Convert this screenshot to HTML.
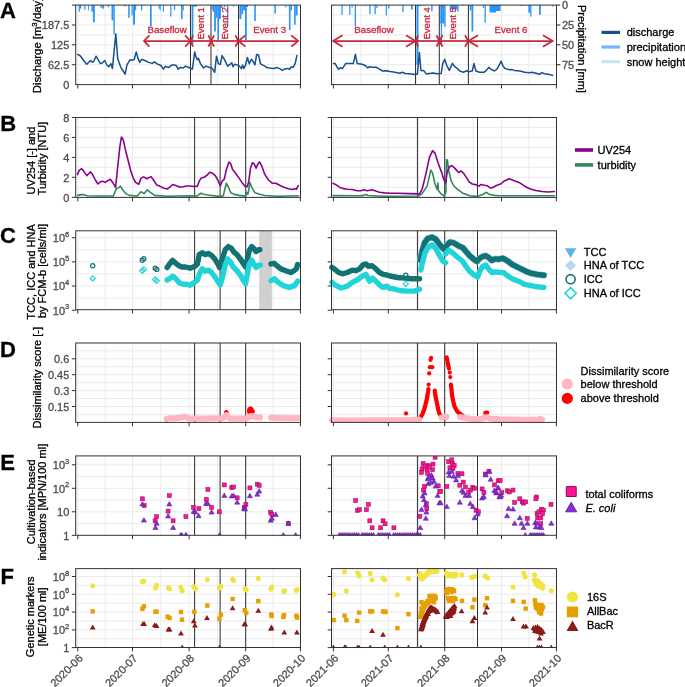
<!DOCTYPE html>
<html><head><meta charset="utf-8"><style>
html,body{margin:0;padding:0;background:#fff;}
body{width:685px;height:687px;overflow:hidden;font-family:"Liberation Sans",sans-serif;}
svg{display:block;will-change:transform;}
</style></head><body>
<svg width="685" height="687" viewBox="0 0 685 687" font-family="Liberation Sans, sans-serif">
<rect width="685" height="687" fill="#ffffff"/>
<defs>
<clipPath id="clipDL"><rect x="75.7" y="343" width="480.8" height="79.4"/></clipPath>
<clipPath id="clipEL"><rect x="75.7" y="455.9" width="480.8" height="79.4"/></clipPath>
<clipPath id="clipFL"><rect x="75.7" y="568.6" width="480.8" height="78.9"/></clipPath>
</defs>
<line x1="75.7" x2="300.5" y1="15.05" y2="15.05" stroke="#ebebeb" stroke-width="1.0"/>
<line x1="75.7" x2="300.5" y1="34.9" y2="34.9" stroke="#ebebeb" stroke-width="1.0"/>
<line x1="75.7" x2="300.5" y1="54.75" y2="54.75" stroke="#ebebeb" stroke-width="1.0"/>
<line x1="75.7" x2="300.5" y1="74.65" y2="74.65" stroke="#ebebeb" stroke-width="1.0"/>
<line x1="75.7" x2="300.5" y1="25" y2="25" stroke="#ebebeb" stroke-width="1.0"/>
<line x1="75.7" x2="300.5" y1="44.8" y2="44.8" stroke="#ebebeb" stroke-width="1.0"/>
<line x1="75.7" x2="300.5" y1="64.7" y2="64.7" stroke="#ebebeb" stroke-width="1.0"/>
<line x1="105.15" x2="105.15" y1="5.1" y2="84.6" stroke="#ebebeb" stroke-width="1.0"/>
<line x1="160.8" x2="160.8" y1="5.1" y2="84.6" stroke="#ebebeb" stroke-width="1.0"/>
<line x1="217.4" x2="217.4" y1="5.1" y2="84.6" stroke="#ebebeb" stroke-width="1.0"/>
<line x1="273.05" x2="273.05" y1="5.1" y2="84.6" stroke="#ebebeb" stroke-width="1.0"/>
<line x1="77.8" x2="77.8" y1="5.1" y2="84.6" stroke="#ebebeb" stroke-width="1.0"/>
<line x1="132.5" x2="132.5" y1="5.1" y2="84.6" stroke="#ebebeb" stroke-width="1.0"/>
<line x1="189.1" x2="189.1" y1="5.1" y2="84.6" stroke="#ebebeb" stroke-width="1.0"/>
<line x1="245.7" x2="245.7" y1="5.1" y2="84.6" stroke="#ebebeb" stroke-width="1.0"/>
<line x1="300.4" x2="300.4" y1="5.1" y2="84.6" stroke="#ebebeb" stroke-width="1.0"/>
<line x1="331.5" x2="556.5" y1="15.05" y2="15.05" stroke="#ebebeb" stroke-width="1.0"/>
<line x1="331.5" x2="556.5" y1="34.9" y2="34.9" stroke="#ebebeb" stroke-width="1.0"/>
<line x1="331.5" x2="556.5" y1="54.75" y2="54.75" stroke="#ebebeb" stroke-width="1.0"/>
<line x1="331.5" x2="556.5" y1="74.65" y2="74.65" stroke="#ebebeb" stroke-width="1.0"/>
<line x1="331.5" x2="556.5" y1="25" y2="25" stroke="#ebebeb" stroke-width="1.0"/>
<line x1="331.5" x2="556.5" y1="44.8" y2="44.8" stroke="#ebebeb" stroke-width="1.0"/>
<line x1="331.5" x2="556.5" y1="64.7" y2="64.7" stroke="#ebebeb" stroke-width="1.0"/>
<line x1="360.85" x2="360.85" y1="5.1" y2="84.6" stroke="#ebebeb" stroke-width="1.0"/>
<line x1="416.5" x2="416.5" y1="5.1" y2="84.6" stroke="#ebebeb" stroke-width="1.0"/>
<line x1="473.1" x2="473.1" y1="5.1" y2="84.6" stroke="#ebebeb" stroke-width="1.0"/>
<line x1="528.95" x2="528.95" y1="5.1" y2="84.6" stroke="#ebebeb" stroke-width="1.0"/>
<line x1="333.4" x2="333.4" y1="5.1" y2="84.6" stroke="#ebebeb" stroke-width="1.0"/>
<line x1="388.3" x2="388.3" y1="5.1" y2="84.6" stroke="#ebebeb" stroke-width="1.0"/>
<line x1="444.7" x2="444.7" y1="5.1" y2="84.6" stroke="#ebebeb" stroke-width="1.0"/>
<line x1="501.5" x2="501.5" y1="5.1" y2="84.6" stroke="#ebebeb" stroke-width="1.0"/>
<line x1="556.4" x2="556.4" y1="5.1" y2="84.6" stroke="#ebebeb" stroke-width="1.0"/>
<line x1="75.7" x2="300.5" y1="127.45" y2="127.45" stroke="#ebebeb" stroke-width="1.0"/>
<line x1="75.7" x2="300.5" y1="147.4" y2="147.4" stroke="#ebebeb" stroke-width="1.0"/>
<line x1="75.7" x2="300.5" y1="167.35" y2="167.35" stroke="#ebebeb" stroke-width="1.0"/>
<line x1="75.7" x2="300.5" y1="187.25" y2="187.25" stroke="#ebebeb" stroke-width="1.0"/>
<line x1="75.7" x2="300.5" y1="137.4" y2="137.4" stroke="#ebebeb" stroke-width="1.0"/>
<line x1="75.7" x2="300.5" y1="157.4" y2="157.4" stroke="#ebebeb" stroke-width="1.0"/>
<line x1="75.7" x2="300.5" y1="177.3" y2="177.3" stroke="#ebebeb" stroke-width="1.0"/>
<line x1="75.7" x2="300.5" y1="197.3" y2="197.3" stroke="#ebebeb" stroke-width="1.0"/>
<line x1="105.15" x2="105.15" y1="117.5" y2="197.4" stroke="#ebebeb" stroke-width="1.0"/>
<line x1="160.8" x2="160.8" y1="117.5" y2="197.4" stroke="#ebebeb" stroke-width="1.0"/>
<line x1="217.4" x2="217.4" y1="117.5" y2="197.4" stroke="#ebebeb" stroke-width="1.0"/>
<line x1="273.05" x2="273.05" y1="117.5" y2="197.4" stroke="#ebebeb" stroke-width="1.0"/>
<line x1="77.8" x2="77.8" y1="117.5" y2="197.4" stroke="#ebebeb" stroke-width="1.0"/>
<line x1="132.5" x2="132.5" y1="117.5" y2="197.4" stroke="#ebebeb" stroke-width="1.0"/>
<line x1="189.1" x2="189.1" y1="117.5" y2="197.4" stroke="#ebebeb" stroke-width="1.0"/>
<line x1="245.7" x2="245.7" y1="117.5" y2="197.4" stroke="#ebebeb" stroke-width="1.0"/>
<line x1="300.4" x2="300.4" y1="117.5" y2="197.4" stroke="#ebebeb" stroke-width="1.0"/>
<line x1="331.5" x2="556.5" y1="127.45" y2="127.45" stroke="#ebebeb" stroke-width="1.0"/>
<line x1="331.5" x2="556.5" y1="147.4" y2="147.4" stroke="#ebebeb" stroke-width="1.0"/>
<line x1="331.5" x2="556.5" y1="167.35" y2="167.35" stroke="#ebebeb" stroke-width="1.0"/>
<line x1="331.5" x2="556.5" y1="187.25" y2="187.25" stroke="#ebebeb" stroke-width="1.0"/>
<line x1="331.5" x2="556.5" y1="137.4" y2="137.4" stroke="#ebebeb" stroke-width="1.0"/>
<line x1="331.5" x2="556.5" y1="157.4" y2="157.4" stroke="#ebebeb" stroke-width="1.0"/>
<line x1="331.5" x2="556.5" y1="177.3" y2="177.3" stroke="#ebebeb" stroke-width="1.0"/>
<line x1="331.5" x2="556.5" y1="197.3" y2="197.3" stroke="#ebebeb" stroke-width="1.0"/>
<line x1="360.85" x2="360.85" y1="117.5" y2="197.4" stroke="#ebebeb" stroke-width="1.0"/>
<line x1="416.5" x2="416.5" y1="117.5" y2="197.4" stroke="#ebebeb" stroke-width="1.0"/>
<line x1="473.1" x2="473.1" y1="117.5" y2="197.4" stroke="#ebebeb" stroke-width="1.0"/>
<line x1="528.95" x2="528.95" y1="117.5" y2="197.4" stroke="#ebebeb" stroke-width="1.0"/>
<line x1="333.4" x2="333.4" y1="117.5" y2="197.4" stroke="#ebebeb" stroke-width="1.0"/>
<line x1="388.3" x2="388.3" y1="117.5" y2="197.4" stroke="#ebebeb" stroke-width="1.0"/>
<line x1="444.7" x2="444.7" y1="117.5" y2="197.4" stroke="#ebebeb" stroke-width="1.0"/>
<line x1="501.5" x2="501.5" y1="117.5" y2="197.4" stroke="#ebebeb" stroke-width="1.0"/>
<line x1="556.4" x2="556.4" y1="117.5" y2="197.4" stroke="#ebebeb" stroke-width="1.0"/>
<line x1="75.7" x2="300.5" y1="249.8" y2="249.8" stroke="#ebebeb" stroke-width="1.0"/>
<line x1="75.7" x2="300.5" y1="273.9" y2="273.9" stroke="#ebebeb" stroke-width="1.0"/>
<line x1="75.7" x2="300.5" y1="298" y2="298" stroke="#ebebeb" stroke-width="1.0"/>
<line x1="75.7" x2="300.5" y1="237.7" y2="237.7" stroke="#ebebeb" stroke-width="1.0"/>
<line x1="75.7" x2="300.5" y1="261.85" y2="261.85" stroke="#ebebeb" stroke-width="1.0"/>
<line x1="75.7" x2="300.5" y1="286" y2="286" stroke="#ebebeb" stroke-width="1.0"/>
<line x1="105.15" x2="105.15" y1="230.8" y2="309.7" stroke="#ebebeb" stroke-width="1.0"/>
<line x1="160.8" x2="160.8" y1="230.8" y2="309.7" stroke="#ebebeb" stroke-width="1.0"/>
<line x1="217.4" x2="217.4" y1="230.8" y2="309.7" stroke="#ebebeb" stroke-width="1.0"/>
<line x1="273.05" x2="273.05" y1="230.8" y2="309.7" stroke="#ebebeb" stroke-width="1.0"/>
<line x1="77.8" x2="77.8" y1="230.8" y2="309.7" stroke="#ebebeb" stroke-width="1.0"/>
<line x1="132.5" x2="132.5" y1="230.8" y2="309.7" stroke="#ebebeb" stroke-width="1.0"/>
<line x1="189.1" x2="189.1" y1="230.8" y2="309.7" stroke="#ebebeb" stroke-width="1.0"/>
<line x1="245.7" x2="245.7" y1="230.8" y2="309.7" stroke="#ebebeb" stroke-width="1.0"/>
<line x1="300.4" x2="300.4" y1="230.8" y2="309.7" stroke="#ebebeb" stroke-width="1.0"/>
<line x1="331.5" x2="556.5" y1="249.8" y2="249.8" stroke="#ebebeb" stroke-width="1.0"/>
<line x1="331.5" x2="556.5" y1="273.9" y2="273.9" stroke="#ebebeb" stroke-width="1.0"/>
<line x1="331.5" x2="556.5" y1="298" y2="298" stroke="#ebebeb" stroke-width="1.0"/>
<line x1="331.5" x2="556.5" y1="237.7" y2="237.7" stroke="#ebebeb" stroke-width="1.0"/>
<line x1="331.5" x2="556.5" y1="261.85" y2="261.85" stroke="#ebebeb" stroke-width="1.0"/>
<line x1="331.5" x2="556.5" y1="286" y2="286" stroke="#ebebeb" stroke-width="1.0"/>
<line x1="360.85" x2="360.85" y1="230.8" y2="309.7" stroke="#ebebeb" stroke-width="1.0"/>
<line x1="416.5" x2="416.5" y1="230.8" y2="309.7" stroke="#ebebeb" stroke-width="1.0"/>
<line x1="473.1" x2="473.1" y1="230.8" y2="309.7" stroke="#ebebeb" stroke-width="1.0"/>
<line x1="528.95" x2="528.95" y1="230.8" y2="309.7" stroke="#ebebeb" stroke-width="1.0"/>
<line x1="333.4" x2="333.4" y1="230.8" y2="309.7" stroke="#ebebeb" stroke-width="1.0"/>
<line x1="388.3" x2="388.3" y1="230.8" y2="309.7" stroke="#ebebeb" stroke-width="1.0"/>
<line x1="444.7" x2="444.7" y1="230.8" y2="309.7" stroke="#ebebeb" stroke-width="1.0"/>
<line x1="501.5" x2="501.5" y1="230.8" y2="309.7" stroke="#ebebeb" stroke-width="1.0"/>
<line x1="556.4" x2="556.4" y1="230.8" y2="309.7" stroke="#ebebeb" stroke-width="1.0"/>
<line x1="75.7" x2="300.5" y1="350.85" y2="350.85" stroke="#ebebeb" stroke-width="1.0"/>
<line x1="75.7" x2="300.5" y1="366.75" y2="366.75" stroke="#ebebeb" stroke-width="1.0"/>
<line x1="75.7" x2="300.5" y1="382.65" y2="382.65" stroke="#ebebeb" stroke-width="1.0"/>
<line x1="75.7" x2="300.5" y1="398.55" y2="398.55" stroke="#ebebeb" stroke-width="1.0"/>
<line x1="75.7" x2="300.5" y1="414.45" y2="414.45" stroke="#ebebeb" stroke-width="1.0"/>
<line x1="75.7" x2="300.5" y1="358.8" y2="358.8" stroke="#ebebeb" stroke-width="1.0"/>
<line x1="75.7" x2="300.5" y1="374.7" y2="374.7" stroke="#ebebeb" stroke-width="1.0"/>
<line x1="75.7" x2="300.5" y1="390.6" y2="390.6" stroke="#ebebeb" stroke-width="1.0"/>
<line x1="75.7" x2="300.5" y1="406.5" y2="406.5" stroke="#ebebeb" stroke-width="1.0"/>
<line x1="105.15" x2="105.15" y1="343" y2="422.4" stroke="#ebebeb" stroke-width="1.0"/>
<line x1="160.8" x2="160.8" y1="343" y2="422.4" stroke="#ebebeb" stroke-width="1.0"/>
<line x1="217.4" x2="217.4" y1="343" y2="422.4" stroke="#ebebeb" stroke-width="1.0"/>
<line x1="273.05" x2="273.05" y1="343" y2="422.4" stroke="#ebebeb" stroke-width="1.0"/>
<line x1="77.8" x2="77.8" y1="343" y2="422.4" stroke="#ebebeb" stroke-width="1.0"/>
<line x1="132.5" x2="132.5" y1="343" y2="422.4" stroke="#ebebeb" stroke-width="1.0"/>
<line x1="189.1" x2="189.1" y1="343" y2="422.4" stroke="#ebebeb" stroke-width="1.0"/>
<line x1="245.7" x2="245.7" y1="343" y2="422.4" stroke="#ebebeb" stroke-width="1.0"/>
<line x1="300.4" x2="300.4" y1="343" y2="422.4" stroke="#ebebeb" stroke-width="1.0"/>
<line x1="331.5" x2="556.5" y1="350.85" y2="350.85" stroke="#ebebeb" stroke-width="1.0"/>
<line x1="331.5" x2="556.5" y1="366.75" y2="366.75" stroke="#ebebeb" stroke-width="1.0"/>
<line x1="331.5" x2="556.5" y1="382.65" y2="382.65" stroke="#ebebeb" stroke-width="1.0"/>
<line x1="331.5" x2="556.5" y1="398.55" y2="398.55" stroke="#ebebeb" stroke-width="1.0"/>
<line x1="331.5" x2="556.5" y1="414.45" y2="414.45" stroke="#ebebeb" stroke-width="1.0"/>
<line x1="331.5" x2="556.5" y1="358.8" y2="358.8" stroke="#ebebeb" stroke-width="1.0"/>
<line x1="331.5" x2="556.5" y1="374.7" y2="374.7" stroke="#ebebeb" stroke-width="1.0"/>
<line x1="331.5" x2="556.5" y1="390.6" y2="390.6" stroke="#ebebeb" stroke-width="1.0"/>
<line x1="331.5" x2="556.5" y1="406.5" y2="406.5" stroke="#ebebeb" stroke-width="1.0"/>
<line x1="360.85" x2="360.85" y1="343" y2="422.4" stroke="#ebebeb" stroke-width="1.0"/>
<line x1="416.5" x2="416.5" y1="343" y2="422.4" stroke="#ebebeb" stroke-width="1.0"/>
<line x1="473.1" x2="473.1" y1="343" y2="422.4" stroke="#ebebeb" stroke-width="1.0"/>
<line x1="528.95" x2="528.95" y1="343" y2="422.4" stroke="#ebebeb" stroke-width="1.0"/>
<line x1="333.4" x2="333.4" y1="343" y2="422.4" stroke="#ebebeb" stroke-width="1.0"/>
<line x1="388.3" x2="388.3" y1="343" y2="422.4" stroke="#ebebeb" stroke-width="1.0"/>
<line x1="444.7" x2="444.7" y1="343" y2="422.4" stroke="#ebebeb" stroke-width="1.0"/>
<line x1="501.5" x2="501.5" y1="343" y2="422.4" stroke="#ebebeb" stroke-width="1.0"/>
<line x1="556.4" x2="556.4" y1="343" y2="422.4" stroke="#ebebeb" stroke-width="1.0"/>
<line x1="75.7" x2="300.5" y1="476.55" y2="476.55" stroke="#ebebeb" stroke-width="1.0"/>
<line x1="75.7" x2="300.5" y1="500.05" y2="500.05" stroke="#ebebeb" stroke-width="1.0"/>
<line x1="75.7" x2="300.5" y1="523.55" y2="523.55" stroke="#ebebeb" stroke-width="1.0"/>
<line x1="75.7" x2="300.5" y1="464.8" y2="464.8" stroke="#ebebeb" stroke-width="1.0"/>
<line x1="75.7" x2="300.5" y1="488.3" y2="488.3" stroke="#ebebeb" stroke-width="1.0"/>
<line x1="75.7" x2="300.5" y1="511.8" y2="511.8" stroke="#ebebeb" stroke-width="1.0"/>
<line x1="105.15" x2="105.15" y1="455.9" y2="535.3" stroke="#ebebeb" stroke-width="1.0"/>
<line x1="160.8" x2="160.8" y1="455.9" y2="535.3" stroke="#ebebeb" stroke-width="1.0"/>
<line x1="217.4" x2="217.4" y1="455.9" y2="535.3" stroke="#ebebeb" stroke-width="1.0"/>
<line x1="273.05" x2="273.05" y1="455.9" y2="535.3" stroke="#ebebeb" stroke-width="1.0"/>
<line x1="77.8" x2="77.8" y1="455.9" y2="535.3" stroke="#ebebeb" stroke-width="1.0"/>
<line x1="132.5" x2="132.5" y1="455.9" y2="535.3" stroke="#ebebeb" stroke-width="1.0"/>
<line x1="189.1" x2="189.1" y1="455.9" y2="535.3" stroke="#ebebeb" stroke-width="1.0"/>
<line x1="245.7" x2="245.7" y1="455.9" y2="535.3" stroke="#ebebeb" stroke-width="1.0"/>
<line x1="300.4" x2="300.4" y1="455.9" y2="535.3" stroke="#ebebeb" stroke-width="1.0"/>
<line x1="331.5" x2="556.5" y1="476.55" y2="476.55" stroke="#ebebeb" stroke-width="1.0"/>
<line x1="331.5" x2="556.5" y1="500.05" y2="500.05" stroke="#ebebeb" stroke-width="1.0"/>
<line x1="331.5" x2="556.5" y1="523.55" y2="523.55" stroke="#ebebeb" stroke-width="1.0"/>
<line x1="331.5" x2="556.5" y1="464.8" y2="464.8" stroke="#ebebeb" stroke-width="1.0"/>
<line x1="331.5" x2="556.5" y1="488.3" y2="488.3" stroke="#ebebeb" stroke-width="1.0"/>
<line x1="331.5" x2="556.5" y1="511.8" y2="511.8" stroke="#ebebeb" stroke-width="1.0"/>
<line x1="360.85" x2="360.85" y1="455.9" y2="535.3" stroke="#ebebeb" stroke-width="1.0"/>
<line x1="416.5" x2="416.5" y1="455.9" y2="535.3" stroke="#ebebeb" stroke-width="1.0"/>
<line x1="473.1" x2="473.1" y1="455.9" y2="535.3" stroke="#ebebeb" stroke-width="1.0"/>
<line x1="528.95" x2="528.95" y1="455.9" y2="535.3" stroke="#ebebeb" stroke-width="1.0"/>
<line x1="333.4" x2="333.4" y1="455.9" y2="535.3" stroke="#ebebeb" stroke-width="1.0"/>
<line x1="388.3" x2="388.3" y1="455.9" y2="535.3" stroke="#ebebeb" stroke-width="1.0"/>
<line x1="444.7" x2="444.7" y1="455.9" y2="535.3" stroke="#ebebeb" stroke-width="1.0"/>
<line x1="501.5" x2="501.5" y1="455.9" y2="535.3" stroke="#ebebeb" stroke-width="1.0"/>
<line x1="556.4" x2="556.4" y1="455.9" y2="535.3" stroke="#ebebeb" stroke-width="1.0"/>
<line x1="75.7" x2="300.5" y1="585.4" y2="585.4" stroke="#ebebeb" stroke-width="1.0"/>
<line x1="75.7" x2="300.5" y1="603.2" y2="603.2" stroke="#ebebeb" stroke-width="1.0"/>
<line x1="75.7" x2="300.5" y1="621" y2="621" stroke="#ebebeb" stroke-width="1.0"/>
<line x1="75.7" x2="300.5" y1="638.8" y2="638.8" stroke="#ebebeb" stroke-width="1.0"/>
<line x1="75.7" x2="300.5" y1="576.5" y2="576.5" stroke="#ebebeb" stroke-width="1.0"/>
<line x1="75.7" x2="300.5" y1="594.3" y2="594.3" stroke="#ebebeb" stroke-width="1.0"/>
<line x1="75.7" x2="300.5" y1="612.1" y2="612.1" stroke="#ebebeb" stroke-width="1.0"/>
<line x1="75.7" x2="300.5" y1="629.9" y2="629.9" stroke="#ebebeb" stroke-width="1.0"/>
<line x1="105.15" x2="105.15" y1="568.6" y2="647.5" stroke="#ebebeb" stroke-width="1.0"/>
<line x1="160.8" x2="160.8" y1="568.6" y2="647.5" stroke="#ebebeb" stroke-width="1.0"/>
<line x1="217.4" x2="217.4" y1="568.6" y2="647.5" stroke="#ebebeb" stroke-width="1.0"/>
<line x1="273.05" x2="273.05" y1="568.6" y2="647.5" stroke="#ebebeb" stroke-width="1.0"/>
<line x1="77.8" x2="77.8" y1="568.6" y2="647.5" stroke="#ebebeb" stroke-width="1.0"/>
<line x1="132.5" x2="132.5" y1="568.6" y2="647.5" stroke="#ebebeb" stroke-width="1.0"/>
<line x1="189.1" x2="189.1" y1="568.6" y2="647.5" stroke="#ebebeb" stroke-width="1.0"/>
<line x1="245.7" x2="245.7" y1="568.6" y2="647.5" stroke="#ebebeb" stroke-width="1.0"/>
<line x1="300.4" x2="300.4" y1="568.6" y2="647.5" stroke="#ebebeb" stroke-width="1.0"/>
<line x1="331.5" x2="556.5" y1="585.4" y2="585.4" stroke="#ebebeb" stroke-width="1.0"/>
<line x1="331.5" x2="556.5" y1="603.2" y2="603.2" stroke="#ebebeb" stroke-width="1.0"/>
<line x1="331.5" x2="556.5" y1="621" y2="621" stroke="#ebebeb" stroke-width="1.0"/>
<line x1="331.5" x2="556.5" y1="638.8" y2="638.8" stroke="#ebebeb" stroke-width="1.0"/>
<line x1="331.5" x2="556.5" y1="576.5" y2="576.5" stroke="#ebebeb" stroke-width="1.0"/>
<line x1="331.5" x2="556.5" y1="594.3" y2="594.3" stroke="#ebebeb" stroke-width="1.0"/>
<line x1="331.5" x2="556.5" y1="612.1" y2="612.1" stroke="#ebebeb" stroke-width="1.0"/>
<line x1="331.5" x2="556.5" y1="629.9" y2="629.9" stroke="#ebebeb" stroke-width="1.0"/>
<line x1="360.85" x2="360.85" y1="568.6" y2="647.5" stroke="#ebebeb" stroke-width="1.0"/>
<line x1="416.5" x2="416.5" y1="568.6" y2="647.5" stroke="#ebebeb" stroke-width="1.0"/>
<line x1="473.1" x2="473.1" y1="568.6" y2="647.5" stroke="#ebebeb" stroke-width="1.0"/>
<line x1="528.95" x2="528.95" y1="568.6" y2="647.5" stroke="#ebebeb" stroke-width="1.0"/>
<line x1="333.4" x2="333.4" y1="568.6" y2="647.5" stroke="#ebebeb" stroke-width="1.0"/>
<line x1="388.3" x2="388.3" y1="568.6" y2="647.5" stroke="#ebebeb" stroke-width="1.0"/>
<line x1="444.7" x2="444.7" y1="568.6" y2="647.5" stroke="#ebebeb" stroke-width="1.0"/>
<line x1="501.5" x2="501.5" y1="568.6" y2="647.5" stroke="#ebebeb" stroke-width="1.0"/>
<line x1="556.4" x2="556.4" y1="568.6" y2="647.5" stroke="#ebebeb" stroke-width="1.0"/>
<line x1="190.5" x2="190.5" y1="5.1" y2="84.6" stroke="#333333" stroke-width="1.05"/>
<line x1="211" x2="211" y1="5.1" y2="84.6" stroke="#333333" stroke-width="1.05"/>
<line x1="238.5" x2="238.5" y1="5.1" y2="84.6" stroke="#333333" stroke-width="1.05"/>
<line x1="415.5" x2="415.5" y1="5.1" y2="84.6" stroke="#333333" stroke-width="1.05"/>
<line x1="439.3" x2="439.3" y1="5.1" y2="84.6" stroke="#333333" stroke-width="1.05"/>
<line x1="468.4" x2="468.4" y1="5.1" y2="84.6" stroke="#333333" stroke-width="1.05"/>
<line x1="194.6" x2="194.6" y1="117.5" y2="197.4" stroke="#333333" stroke-width="1.05"/>
<line x1="220.1" x2="220.1" y1="117.5" y2="197.4" stroke="#333333" stroke-width="1.05"/>
<line x1="245.7" x2="245.7" y1="117.5" y2="197.4" stroke="#333333" stroke-width="1.05"/>
<line x1="417.6" x2="417.6" y1="117.5" y2="197.4" stroke="#333333" stroke-width="1.05"/>
<line x1="444.7" x2="444.7" y1="117.5" y2="197.4" stroke="#333333" stroke-width="1.05"/>
<line x1="477.5" x2="477.5" y1="117.5" y2="197.4" stroke="#333333" stroke-width="1.05"/>
<line x1="194.6" x2="194.6" y1="230.8" y2="309.7" stroke="#333333" stroke-width="1.05"/>
<line x1="220.1" x2="220.1" y1="230.8" y2="309.7" stroke="#333333" stroke-width="1.05"/>
<line x1="245.7" x2="245.7" y1="230.8" y2="309.7" stroke="#333333" stroke-width="1.05"/>
<line x1="417.6" x2="417.6" y1="230.8" y2="309.7" stroke="#333333" stroke-width="1.05"/>
<line x1="444.7" x2="444.7" y1="230.8" y2="309.7" stroke="#333333" stroke-width="1.05"/>
<line x1="477.5" x2="477.5" y1="230.8" y2="309.7" stroke="#333333" stroke-width="1.05"/>
<line x1="194.6" x2="194.6" y1="343" y2="422.4" stroke="#333333" stroke-width="1.05"/>
<line x1="220.1" x2="220.1" y1="343" y2="422.4" stroke="#333333" stroke-width="1.05"/>
<line x1="245.7" x2="245.7" y1="343" y2="422.4" stroke="#333333" stroke-width="1.05"/>
<line x1="417.6" x2="417.6" y1="343" y2="422.4" stroke="#333333" stroke-width="1.05"/>
<line x1="444.7" x2="444.7" y1="343" y2="422.4" stroke="#333333" stroke-width="1.05"/>
<line x1="477.5" x2="477.5" y1="343" y2="422.4" stroke="#333333" stroke-width="1.05"/>
<line x1="194.6" x2="194.6" y1="455.9" y2="535.3" stroke="#333333" stroke-width="1.05"/>
<line x1="220.1" x2="220.1" y1="455.9" y2="535.3" stroke="#333333" stroke-width="1.05"/>
<line x1="245.7" x2="245.7" y1="455.9" y2="535.3" stroke="#333333" stroke-width="1.05"/>
<line x1="417.6" x2="417.6" y1="455.9" y2="535.3" stroke="#333333" stroke-width="1.05"/>
<line x1="444.7" x2="444.7" y1="455.9" y2="535.3" stroke="#333333" stroke-width="1.05"/>
<line x1="477.5" x2="477.5" y1="455.9" y2="535.3" stroke="#333333" stroke-width="1.05"/>
<line x1="194.6" x2="194.6" y1="568.6" y2="647.5" stroke="#333333" stroke-width="1.05"/>
<line x1="220.1" x2="220.1" y1="568.6" y2="647.5" stroke="#333333" stroke-width="1.05"/>
<line x1="245.7" x2="245.7" y1="568.6" y2="647.5" stroke="#333333" stroke-width="1.05"/>
<line x1="417.6" x2="417.6" y1="568.6" y2="647.5" stroke="#333333" stroke-width="1.05"/>
<line x1="444.7" x2="444.7" y1="568.6" y2="647.5" stroke="#333333" stroke-width="1.05"/>
<line x1="477.5" x2="477.5" y1="568.6" y2="647.5" stroke="#333333" stroke-width="1.05"/>
<rect x="78.7" y="5.1" width="1.2" height="6.6" fill="#2894f7"/>
<rect x="79.9" y="5.1" width="1.3" height="3.5" fill="#2894f7"/>
<rect x="84.3" y="5.1" width="1.2" height="4.7" fill="#2894f7"/>
<rect x="88" y="5.1" width="0.9" height="5.3" fill="#2894f7"/>
<rect x="91.4" y="5.1" width="1.5" height="6.6" fill="#2894f7"/>
<rect x="92.9" y="5.1" width="1.9" height="17.1" fill="#2894f7"/>
<rect x="100.4" y="5.1" width="1.2" height="2.9" fill="#2894f7"/>
<rect x="102.2" y="5.1" width="1.9" height="3.5" fill="#2894f7"/>
<rect x="107.8" y="5.1" width="1.2" height="2.2" fill="#2894f7"/>
<rect x="111.5" y="5.1" width="1.9" height="15.2" fill="#2894f7"/>
<rect x="113.4" y="5.1" width="1.4" height="29.4" fill="#2894f7"/>
<rect x="124.5" y="5.1" width="1.2" height="1.6" fill="#2894f7"/>
<rect x="128.2" y="5.1" width="1.5" height="12.7" fill="#2894f7"/>
<rect x="131.5" y="5.1" width="1.2" height="10.3" fill="#2894f7"/>
<rect x="133.1" y="5.1" width="1.9" height="19.5" fill="#2894f7"/>
<rect x="135" y="5.1" width="1.2" height="5.3" fill="#2894f7"/>
<rect x="141.1" y="5.1" width="1.3" height="5.3" fill="#2894f7"/>
<rect x="150" y="5.1" width="1.7" height="21.4" fill="#2894f7"/>
<rect x="158.5" y="5.1" width="1.2" height="3.5" fill="#2894f7"/>
<rect x="159.7" y="5.1" width="1" height="5.3" fill="#2894f7"/>
<rect x="162.8" y="5.1" width="1.2" height="6.6" fill="#2894f7"/>
<rect x="170.2" y="5.1" width="1.2" height="11.5" fill="#2894f7"/>
<rect x="173.9" y="5.1" width="1.3" height="4.7" fill="#2894f7"/>
<rect x="181" y="5.1" width="1.6" height="14" fill="#2894f7"/>
<rect x="182.6" y="5.1" width="1.2" height="5.3" fill="#2894f7"/>
<rect x="191.6" y="5.1" width="1.8" height="38.7" fill="#2894f7"/>
<rect x="193.4" y="5.1" width="3.4" height="1.6" fill="#2894f7"/>
<rect x="211.6" y="5.1" width="1.2" height="4.7" fill="#2894f7"/>
<rect x="212.8" y="5.1" width="1.3" height="6.9" fill="#2894f7"/>
<rect x="214.1" y="5.1" width="1.8" height="26.4" fill="#2894f7"/>
<rect x="215.9" y="5.1" width="1.5" height="12.7" fill="#2894f7"/>
<rect x="217.4" y="5.1" width="1.6" height="34.9" fill="#2894f7"/>
<rect x="219" y="5.1" width="1.9" height="13.9" fill="#2894f7"/>
<rect x="220.9" y="5.1" width="1.6" height="2.9" fill="#2894f7"/>
<rect x="224" y="5.1" width="1.2" height="1.9" fill="#2894f7"/>
<rect x="227.1" y="5.1" width="1.2" height="21.4" fill="#2894f7"/>
<rect x="233" y="5.1" width="1.2" height="1.4" fill="#2894f7"/>
<rect x="239.4" y="5.1" width="1.9" height="13.9" fill="#2894f7"/>
<rect x="241.3" y="5.1" width="1.8" height="9" fill="#2894f7"/>
<rect x="243.1" y="5.1" width="1.9" height="5.3" fill="#2894f7"/>
<rect x="245" y="5.1" width="1.8" height="35" fill="#2894f7"/>
<rect x="246.8" y="5.1" width="1.2" height="1.9" fill="#2894f7"/>
<rect x="254.2" y="5.1" width="1.6" height="15.9" fill="#2894f7"/>
<rect x="274.4" y="5.1" width="1.5" height="8.4" fill="#2894f7"/>
<rect x="285.2" y="5.1" width="1.2" height="2.2" fill="#2894f7"/>
<rect x="288.9" y="5.1" width="1.6" height="25.1" fill="#2894f7"/>
<rect x="290.5" y="5.1" width="1.5" height="5.3" fill="#2894f7"/>
<rect x="294.1" y="5.1" width="1.6" height="19.6" fill="#2894f7"/>
<rect x="295.7" y="5.1" width="1.9" height="10.3" fill="#2894f7"/>
<rect x="341.4" y="5.1" width="1.2" height="9.7" fill="#2894f7"/>
<rect x="349.2" y="5.1" width="1.2" height="9.7" fill="#2894f7"/>
<rect x="351.7" y="5.1" width="0.8" height="2.9" fill="#2894f7"/>
<rect x="354.7" y="5.1" width="1.3" height="21.4" fill="#2894f7"/>
<rect x="365.3" y="5.1" width="0.8" height="0.9" fill="#2894f7"/>
<rect x="369.3" y="5.1" width="1.3" height="9" fill="#2894f7"/>
<rect x="374.5" y="5.1" width="1.3" height="9" fill="#2894f7"/>
<rect x="376.4" y="5.1" width="1.2" height="2.9" fill="#2894f7"/>
<rect x="380.7" y="5.1" width="1" height="0.9" fill="#2894f7"/>
<rect x="385.7" y="5.1" width="1.2" height="10.3" fill="#2894f7"/>
<rect x="388.1" y="5.1" width="1.3" height="3.5" fill="#2894f7"/>
<rect x="402.3" y="5.1" width="1.3" height="7.2" fill="#2894f7"/>
<rect x="411" y="5.1" width="1.7" height="4.4" fill="#2894f7"/>
<rect x="416.5" y="5.1" width="2" height="59.8" fill="#2894f7"/>
<rect x="418.5" y="5.1" width="2.8" height="1" fill="#2894f7"/>
<rect x="431.2" y="5.1" width="1.4" height="6.1" fill="#2894f7"/>
<rect x="440.1" y="5.1" width="0.7" height="18.4" fill="#2894f7"/>
<rect x="440.8" y="5.1" width="1.3" height="40.3" fill="#2894f7"/>
<rect x="442.1" y="5.1" width="2.1" height="18.4" fill="#2894f7"/>
<rect x="444.2" y="5.1" width="1.4" height="21.5" fill="#2894f7"/>
<rect x="449.9" y="5.1" width="7.4" height="4.4" fill="#2894f7"/>
<rect x="451" y="5.1" width="1.5" height="2.9" fill="#2894f7"/>
<rect x="457.3" y="5.1" width="1.3" height="6.6" fill="#2894f7"/>
<rect x="462.3" y="5.1" width="1.2" height="0.9" fill="#2894f7"/>
<rect x="469.7" y="5.1" width="1.8" height="5.3" fill="#2894f7"/>
<rect x="471.5" y="5.1" width="1.7" height="26.4" fill="#2894f7"/>
<rect x="482.7" y="5.1" width="1.2" height="2.9" fill="#2894f7"/>
<rect x="484.5" y="5.1" width="1.3" height="17.7" fill="#2894f7"/>
<rect x="489.5" y="5.1" width="6.5" height="7.4" fill="#2894f7"/>
<rect x="496" y="5.1" width="4.6" height="5.9" fill="#2894f7"/>
<rect x="520.4" y="5.1" width="1.2" height="0.9" fill="#2894f7"/>
<rect x="528.4" y="5.1" width="1.9" height="7.8" fill="#2894f7"/>
<rect x="530.3" y="5.1" width="1.2" height="11.5" fill="#2894f7"/>
<rect x="539" y="5.1" width="1.8" height="9.7" fill="#2894f7"/>
<rect x="552" y="5.1" width="1.2" height="1.6" fill="#2894f7"/>
<path d="M77.7,54.3 L80.6,56.2 L83.7,60.5 L86.8,64.2 L90.5,60.5 L92.3,62.1 L93.6,61.8 L96,56.2 L97.9,59.3 L100.4,63.6 L102.2,63 L104.7,60.5 L107.2,65.5 L108.7,66.7 L110.9,63.6 L112.4,68.6 L115.8,33.9 L117.7,58.7 L120.8,67.3 L123.2,71 L125.1,74.1 L127,64.9 L130.1,59.7 L132.5,60.2 L134.3,59.3 L136.2,51.9 L137.7,57.4 L139.7,62.4 L141.8,59.3 L144.8,60.5 L148.6,62.4 L152.3,63.4 L154.5,61.8 L156.6,63.6 L160.9,65.5 L163.4,69.2 L165.3,66.3 L168.4,67.6 L172.1,64.9 L174.5,64.9 L176.4,65.8 L178,69.2 L180.1,67.6 L183.2,68 L185.4,66.1 L188.1,67.3 L190,68 L192.4,69.2 L194.7,51.9 L196.1,57.4 L197.4,59.7 L198.4,58.4 L200.5,63.6 L203.6,68 L206,66.1 L209.1,67.3 L211.6,68 L213.2,69.8 L214.7,72.3 L216.5,56.2 L218.4,63.6 L220.3,64.5 L222.1,55.6 L224.6,59.9 L227.7,66.1 L230.2,64.2 L231.8,62.8 L233,66.7 L234.7,64.2 L237,64.9 L239.4,66.1 L241.3,68.6 L242.5,64.9 L243.7,68.6 L245.6,64.9 L247.4,57.5 L249.3,63.7 L251.4,59.3 L253,61.2 L254.9,64.9 L256.7,54.4 L258.6,55 L260.4,63.7 L262.3,64.9 L264.8,66.1 L266.6,67.4 L269.7,68 L273.4,68.4 L277.1,67.6 L280.2,68.9 L282.3,70.5 L284.6,68.9 L287.7,68.4 L289.5,69.2 L291.4,66.8 L293.2,67.4 L295.1,63.7 L296.9,55.6" fill="none" stroke="#174f8c" stroke-width="1.5" stroke-linejoin="round" stroke-linecap="round" />
<path d="M333.5,63.4 L335.2,63.6 L336.8,66.7 L338.7,69.2 L340.5,67.6 L342.4,68.6 L345.8,63.4 L348.6,63.6 L353.3,63.6 L355.4,54.3 L357.2,63.6 L362.2,64.2 L365.3,65.5 L367.7,68 L369.6,66.7 L372.1,67.3 L376.4,67.3 L379.5,69.2 L382.6,71 L386.3,70.8 L390,71.5 L394.9,72.3 L399.8,73.3 L402.3,72.3 L405.4,73.5 L409.7,73.8 L414.7,74.5 L417.4,74.1 L419.4,52.5 L420.9,70.4 L422.1,70.8 L423.6,70.4 L426.4,74.1 L429.5,73.5 L433.2,72.9 L437,73.8 L441.2,73.5 L442.7,63.6 L444.7,59.3 L446.8,65.5 L449.3,70.4 L452.4,63.4 L454.8,66.7 L457.3,68.6 L459.8,71 L463.5,72.3 L466.6,70.8 L469.1,71.7 L472.2,71 L474,63.6 L475.9,71 L479.6,72.3 L483.9,72.3 L486.4,70.4 L488.9,67.3 L490.7,69.2 L494.4,71 L496.9,69.2 L499.3,64.9 L501.2,61.2 L503,66.1 L504.9,68.4 L507.4,69.2 L509.9,69.8 L511.7,69.6 L514.8,70.5 L519.8,71.1 L524.7,72.3 L529.7,72.7 L532.1,72.3 L537.1,73.6 L539.6,74.2 L541.8,72.6 L544.5,73.8 L548.2,74.2 L552.6,75.4" fill="none" stroke="#174f8c" stroke-width="1.5" stroke-linejoin="round" stroke-linecap="round" />
<path d="M77.5,195.4 L82.4,194.4 L87.4,195.7 L99.7,196 L113.4,196 L114.6,192.7 L116.4,188.6 L118.3,188 L120.5,186.1 L122.6,189.8 L125.7,193.6 L129.4,195.4 L137.4,196 L140.9,191.7 L144.2,193.6 L147.3,189.8 L150.4,192.3 L154.7,195.4 L167.1,196.2 L190,195.7 L197.4,196 L199.2,194.2 L201.1,193.2 L203.6,194.2 L209.7,195.2 L219.6,196.4 L223.4,195.7 L224.8,189.2 L226.4,183.3 L228.3,186.8 L230.8,192.7 L234.5,194.4 L239.4,195.4 L245.6,196.1 L246.8,192.4 L248,194.2 L249.9,182.5 L251.8,187.4 L254.9,192.7 L259.8,194.2 L264.8,195.5 L277.1,196.3 L298.2,195.7" fill="none" stroke="#2e8b57" stroke-width="1.6" stroke-linejoin="round" stroke-linecap="round" />
<path d="M77.5,174.4 L79.3,170.1 L81.8,168.8 L84.3,171.9 L86.8,175.6 L88.6,173.8 L90.5,171.9 L92.3,174.1 L95.4,180 L97.9,184 L100.4,181.8 L102.8,181.2 L105.3,182.4 L107.8,180.6 L110.3,179.3 L112.7,182.4 L115.6,187.4 L117.7,167 L119.8,147.2 L121.4,137 L123.2,139.7 L125.7,150.9 L128.2,160.8 L130.7,170.7 L133.1,177.6 L135.6,182.4 L138.7,184.3 L141.1,178.1 L143.6,176.9 L146.7,178.7 L151,176.6 L153.5,180 L156.6,184.9 L159.7,186.1 L163.4,188 L167.1,189 L169.6,187.4 L172.7,184.5 L175.8,185.5 L179.5,187.1 L183.2,186.8 L186.3,186 L190,186 L193.7,186.5 L197.4,186.1 L199.2,181.2 L201.1,178.1 L204.8,176.9 L207.3,175 L209.7,172.2 L212.2,173.1 L215.3,175.6 L217.8,180 L220.3,185.8 L222.1,181.2 L224.3,179.1 L226.4,169.4 L228.9,162 L230.8,163.9 L232.6,169.4 L235.1,172.5 L238.2,176.9 L241.9,182.4 L245,186.2 L247.2,186.8 L248.7,181.8 L250.5,168.2 L252.4,162.7 L254.2,163.9 L256.1,168.2 L257.9,163.9 L259.6,161.8 L261.7,165.8 L264.8,174.4 L268.5,180 L272.2,183.1 L275.9,183.3 L279.6,185.3 L283.3,187 L288.3,188.7 L292,189.5 L294.5,188.7 L296.3,189.3 L298.2,185.6" fill="none" stroke="#8b008b" stroke-width="1.6" stroke-linejoin="round" stroke-linecap="round" />
<path d="M333.1,195.6 L360,195.8 L364,195.4 L365.9,194.5 L368,195.5 L385,196.2 L418.4,196 L422.1,193.6 L427.1,186.1 L430.8,170.1 L432.6,173.1 L435.1,184.3 L437,189.2 L438,183 L438.4,190.5 L440.7,193.6 L444.3,196 L445.9,191.7 L446.6,159.5 L447.4,160.2 L448.7,170.7 L451.1,180.6 L453.6,185.5 L457.3,189.2 L462.3,192.9 L469.7,195.7 L477.1,196.4 L483.3,194.2 L486.4,192.3 L488.9,194.2 L494.4,195.4 L500,195.7 L554.4,195.8" fill="none" stroke="#2e8b57" stroke-width="1.6" stroke-linejoin="round" stroke-linecap="round" />
<path d="M333.1,183.3 L336.2,184.9 L339.9,187.4 L343.6,188.6 L347.3,189.2 L352.3,189.5 L357.2,190.7 L360.9,190.7 L364,189.8 L367.1,190.7 L372.1,189.8 L375.8,191.1 L379.5,192.3 L384.4,192.9 L390,193.2 L397.4,193.2 L409.7,193.6 L419.6,193.9 L422.1,189.2 L425.8,174.4 L429.5,157.1 L432.6,150.6 L435.1,153.4 L438.2,163.2 L441.9,173.1 L443.7,179.3 L445.6,182.8 L447.2,171.9 L449.3,167 L451.8,165.5 L454.2,167.6 L456.7,170.4 L458.6,172.5 L461,170.9 L463.5,173.1 L466,176.9 L469.1,181.8 L472.2,184 L476.5,184.9 L479,186.1 L480.8,184.5 L484.5,185.3 L487.6,185.8 L490.1,188 L493.2,187.4 L496.3,185.5 L501.2,183.7 L503.7,181.2 L509.2,178.8 L513.6,180.6 L519.8,182.8 L524.7,186.2 L529.7,188.7 L535.9,190.5 L542,191.5 L548.2,192 L554.4,191.5" fill="none" stroke="#8b008b" stroke-width="1.6" stroke-linejoin="round" stroke-linecap="round" />
<rect x="259.2" y="230.8" width="12.7" height="78.9" fill="#d0d0d0"/>
<path d="M420.3,260.2 L422.1,251.5 L424.6,242.8 L427.7,238.5 L432,237.3 L435.7,239.1 L439.4,244.1 L442.5,248 L444.9,249.7 L446.8,245.3 L449.9,242.2 L453.6,242.8 L458.6,245.9 L462.9,247.8 L466,251.5 L469.7,255.8 L473.4,258.9 L477.1,261.4 L479.6,258.3 L482.7,256.5 L485.8,255.8 L488.9,257.7 L492,260.4 L495.1,258.9 L498.7,259.2 L503,258.3 L507.4,260.8 L512.3,264.5 L518.5,267.6 L524.7,270.7 L530.9,273.2 L537.1,274.4 L543.9,275.3" fill="none" stroke="#7cc0ea" stroke-width="6.6" stroke-linejoin="round" stroke-linecap="round" />
<path d="M167.1,267.6 L169.6,263.9 L172.7,260.4 L175.8,263.3 L178.9,265.7 L182,267 L185.7,267 L190,268.2 L194.3,266.6 L197.4,263.9 L199.2,254.6 L202.3,252.7 L205.4,254.6 L208.5,253.4 L211.6,255.5 L214.7,258.9 L217.8,263.9 L219.6,267.6 L222.1,259.5 L225.2,249.7 L228.3,246.6 L231.4,248.4 L233.9,252.1 L237,254.6 L240.7,259.5 L243.1,263.3 L245.6,267 L247.4,258.9 L249.3,250.3 L251.8,246.6 L254.2,249 L256.1,251.5 L258.6,249.7 L259.8,249.7" fill="none" stroke="#137373" stroke-width="5.4" stroke-linejoin="round" stroke-linecap="round" />
<path d="M271,263.9 L274,263.3 L277.1,265.8 L280.9,268.9 L285.8,270.7 L290.8,272.6 L293.9,270.7 L296.3,268.9 L297.6,264.5" fill="none" stroke="#137373" stroke-width="5.4" stroke-linejoin="round" stroke-linecap="round" />
<path d="M331.9,267.3 L334.9,269.4 L338.7,272.5 L342.4,273.8 L347.3,272.5 L352.3,270.1 L356,270.7 L359.7,268.8 L362.8,265.1 L365.9,263.9 L368.4,266.4 L372.1,265.7 L375.8,268.8 L379.5,272.5 L383.2,274.4 L386.9,275 L390,276 L397.4,277.5 L404.8,278.1 L412.2,278.7 L419.6,278.7" fill="none" stroke="#137373" stroke-width="5.4" stroke-linejoin="round" stroke-linecap="round" />
<path d="M420.3,260.2 L422.1,251.5 L424.6,242.8 L427.7,238.5 L432,237.3 L435.7,239.1 L439.4,244.1 L442.5,248 L444.9,249.7 L446.8,245.3 L449.9,242.2 L453.6,242.8 L458.6,245.9 L462.9,247.8 L466,251.5 L469.7,255.8 L473.4,258.9 L477.1,261.4 L479.6,258.3 L482.7,256.5 L485.8,255.8 L488.9,257.7 L492,260.4 L495.1,258.9 L498.7,259.2 L503,258.3 L507.4,260.8 L512.3,264.5 L518.5,267.6 L524.7,270.7 L530.9,273.2 L537.1,274.4 L543.9,275.3" fill="none" stroke="#137373" stroke-width="5.4" stroke-linejoin="round" stroke-linecap="round" />
<path d="M167.1,280 L169.6,278.7 L172.7,276.2 L175.8,278.7 L179.5,283 L183.2,284.3 L186.9,284.3 L190,285.2 L194.3,282.4 L197.4,280 L199.8,273.2 L202.3,268.8 L205.4,271.3 L208.5,270.1 L211.6,272.5 L215.3,277.5 L218.4,282.4 L220.3,284.9 L222.7,276.2 L225.2,265.1 L227.7,258.9 L230.8,262.6 L233.2,267 L237,270.7 L240.7,275.6 L243.1,280 L245.6,283.7 L247.4,273.8 L249.3,263.9 L251.8,260.2 L253.6,263.9 L256.1,267.6 L258.6,265.1 L260.4,265.1" fill="none" stroke="#22d3d8" stroke-width="5.4" stroke-linejoin="round" stroke-linecap="round" />
<path d="M271,280.6 L274.7,278.8 L278.4,282.5 L283.3,285.6 L289.5,287.4 L294.5,285.6 L297.6,281.2" fill="none" stroke="#22d3d8" stroke-width="5.4" stroke-linejoin="round" stroke-linecap="round" />
<path d="M331.9,282.4 L334.9,284.9 L341.1,288 L347.3,286.1 L352.3,282.4 L357.2,280 L362.2,276.2 L365.9,274.4 L369.6,281.2 L372.7,278.1 L375.8,281.2 L379.5,284.9 L383.2,287.4 L386.9,286.1 L390,288.6 L392.4,288.6 L399.8,290.5 L407.3,291.1 L414.7,291.1 L419.6,289.2" fill="none" stroke="#22d3d8" stroke-width="5.4" stroke-linejoin="round" stroke-linecap="round" />
<path d="M420.9,270.1 L422.1,263.9 L424.6,254 L427.7,247.8 L432,244.7 L435.7,248.4 L439.4,255.2 L443.1,261.4 L445.6,262.6" fill="none" stroke="#22d3d8" stroke-width="5.4" stroke-linejoin="round" stroke-linecap="round" />
<path d="M445.6,254 L448.7,250.3 L452.4,252.7 L457.3,257.1 L462.3,260.8 L466,266.4 L469.7,271.3 L473.4,274.4 L477.7,276.9 L479.6,271.3 L482.7,266.4 L485.8,265.1 L488.9,269.4 L492,272.5 L495.1,271.9 L498.7,272.3 L503.7,272.6 L507.4,275.7 L512.3,278.8 L518.5,281.2 L524.7,284.3 L530.9,285.6 L537.1,286.8 L543.9,287.4" fill="none" stroke="#22d3d8" stroke-width="5.4" stroke-linejoin="round" stroke-linecap="round" />
<circle cx="92.7" cy="265.7" r="2.1" fill="none" stroke="#137373" stroke-width="1.2"/>
<circle cx="142.2" cy="260.2" r="2.1" fill="none" stroke="#137373" stroke-width="1.2"/>
<circle cx="143.8" cy="258.8" r="2.1" fill="none" stroke="#137373" stroke-width="1.2"/>
<circle cx="155.2" cy="268.2" r="2.1" fill="none" stroke="#137373" stroke-width="1.2"/>
<circle cx="156.8" cy="269.4" r="2.1" fill="none" stroke="#137373" stroke-width="1.2"/>
<circle cx="405.8" cy="275.3" r="2.1" fill="none" stroke="#137373" stroke-width="1.2"/>
<path d="M92.7,275.8 L95.3,278.4 L92.7,281 L90.1,278.4 Z" fill="none" stroke="#22d3d8" stroke-width="1.2"/>
<path d="M142.2,268.2 L144.8,270.8 L142.2,273.4 L139.6,270.8 Z" fill="none" stroke="#22d3d8" stroke-width="1.2"/>
<path d="M143.8,266.8 L146.4,269.4 L143.8,272 L141.2,269.4 Z" fill="none" stroke="#22d3d8" stroke-width="1.2"/>
<path d="M155.2,276.8 L157.8,279.4 L155.2,282 L152.6,279.4 Z" fill="none" stroke="#22d3d8" stroke-width="1.2"/>
<path d="M156.8,278.2 L159.4,280.8 L156.8,283.4 L154.2,280.8 Z" fill="none" stroke="#22d3d8" stroke-width="1.2"/>
<path d="M405.8,281.1 L408.4,283.7 L405.8,286.3 L403.2,283.7 Z" fill="none" stroke="#22d3d8" stroke-width="1.2"/>
<circle cx="226.3" cy="412.2" r="2.1" fill="#ff0000"/>
<circle cx="226.3" cy="412.6" r="2.1" fill="#ff0000"/>
<circle cx="249" cy="410" r="2.1" fill="#ff0000"/>
<circle cx="250" cy="408.6" r="2.1" fill="#ff0000"/>
<circle cx="251" cy="408.6" r="2.1" fill="#ff0000"/>
<circle cx="252" cy="410" r="2.1" fill="#ff0000"/>
<circle cx="252.8" cy="411.6" r="2.1" fill="#ff0000"/>
<circle cx="249" cy="412" r="2.1" fill="#ff0000"/>
<circle cx="250.5" cy="412" r="2.1" fill="#ff0000"/>
<circle cx="251.8" cy="412.6" r="2.1" fill="#ff0000"/>
<circle cx="406" cy="413.4" r="2.1" fill="#ff0000"/>
<circle cx="429.2" cy="373.4" r="2.1" fill="#ff0000"/>
<circle cx="429.9" cy="367.2" r="2.1" fill="#ff0000"/>
<circle cx="432.3" cy="367.2" r="2.1" fill="#ff0000"/>
<circle cx="430.5" cy="359.8" r="2.1" fill="#ff0000"/>
<circle cx="431.1" cy="357.9" r="2.1" fill="#ff0000"/>
<circle cx="428.6" cy="384.6" r="2.1" fill="#ff0000"/>
<circle cx="450.3" cy="377.1" r="2.1" fill="#ff0000"/>
<circle cx="449.8" cy="372.5" r="2.1" fill="#ff0000"/>
<path d="M420.6,417.4 L422.4,414.3 L424.3,409.3 L425.5,404.4 L426.8,399.4 L427.4,395.7 L428,392 L428.4,389" fill="none" stroke="#ff0000" stroke-width="4.2" stroke-linejoin="round" stroke-linecap="round" />
<path d="M434.8,390.7 L435.4,395.7 L436.7,401.9 L437.9,408.1 L439.1,413 L441,416.1" fill="none" stroke="#ff0000" stroke-width="4.2" stroke-linejoin="round" stroke-linecap="round" />
<path d="M446.6,357.3 L447.2,359.8 L447.8,363.5 L449,368.5" fill="none" stroke="#ff0000" stroke-width="4.2" stroke-linejoin="round" stroke-linecap="round" />
<path d="M450.9,384.6 L451.5,389.5 L452.1,395.7 L453.4,401.9 L454.6,406.8 L457.1,411.2 L459.6,413.6 L462.6,415.5" fill="none" stroke="#ff0000" stroke-width="4.2" stroke-linejoin="round" stroke-linecap="round" />
<path d="M485.3,412.8 L487.2,412.6" fill="none" stroke="#ff0000" stroke-width="4.2" stroke-linejoin="round" stroke-linecap="round" />
<g clip-path="url(#clipDL)">
<path d="M166.5,419 L170,418.3 L175,418.2 L180,417.8 L185,416.5 L188,418.2 L195,418.6 L205,418.4 L215,418.3 L222,418.3 L224.5,417 L226.3,415.2 L228,416.8 L230,418.4 L240,418.5 L247,418.2 L251,416 L254,416.6 L257.5,417.2 L260,417.4" fill="none" stroke="#ffb6c1" stroke-width="6.0" stroke-linejoin="round" stroke-linecap="round" />
<path d="M271,417.7 L280,418 L290,418.2 L298,418" fill="none" stroke="#ffb6c1" stroke-width="6.0" stroke-linejoin="round" stroke-linecap="round" />
<path d="M332,420.3 L350,420.4 L370,420.3 L390,420.2 L410,420 L419,419.6" fill="none" stroke="#ffb6c1" stroke-width="6.0" stroke-linejoin="round" stroke-linecap="round" />
<path d="M441.5,417.6 L444.7,416.5 L446.5,417" fill="none" stroke="#ffb6c1" stroke-width="6.0" stroke-linejoin="round" stroke-linecap="round" />
<path d="M460,417 L465,418 L470,418.8 L476,419.2 L482,418.8 L486,417.2 L490,418.5 L500,419.2 L510,419.4 L520,419.7 L530,419.8 L537,419.7 L540,418.8 L542,419.6" fill="none" stroke="#ffb6c1" stroke-width="6.0" stroke-linejoin="round" stroke-linecap="round" />
</g>
<g clip-path="url(#clipEL)">
<rect x="140.4" y="496.8" width="4.0" height="4.0" fill="#ff1493" stroke="#8b0a50" stroke-width="0.5"/>
<rect x="142.2" y="503.6" width="4.0" height="4.0" fill="#ff1493" stroke="#8b0a50" stroke-width="0.5"/>
<rect x="154.6" y="514.7" width="4.0" height="4.0" fill="#ff1493" stroke="#8b0a50" stroke-width="0.5"/>
<rect x="153.1" y="518.8" width="4.0" height="4.0" fill="#ff1493" stroke="#8b0a50" stroke-width="0.5"/>
<rect x="167.3" y="493.7" width="4.0" height="4.0" fill="#ff1493" stroke="#8b0a50" stroke-width="0.5"/>
<rect x="166.1" y="509.1" width="4.0" height="4.0" fill="#ff1493" stroke="#8b0a50" stroke-width="0.5"/>
<rect x="171.1" y="518.8" width="4.0" height="4.0" fill="#ff1493" stroke="#8b0a50" stroke-width="0.5"/>
<rect x="183.9" y="514.7" width="4.0" height="4.0" fill="#ff1493" stroke="#8b0a50" stroke-width="0.5"/>
<rect x="191.4" y="505.4" width="4.0" height="4.0" fill="#ff1493" stroke="#8b0a50" stroke-width="0.5"/>
<rect x="196.9" y="506.7" width="4.0" height="4.0" fill="#ff1493" stroke="#8b0a50" stroke-width="0.5"/>
<rect x="205.9" y="487.5" width="4.0" height="4.0" fill="#ff1493" stroke="#8b0a50" stroke-width="0.5"/>
<rect x="204.3" y="497.4" width="4.0" height="4.0" fill="#ff1493" stroke="#8b0a50" stroke-width="0.5"/>
<rect x="209.6" y="505.4" width="4.0" height="4.0" fill="#ff1493" stroke="#8b0a50" stroke-width="0.5"/>
<rect x="217.4" y="509.8" width="4.0" height="4.0" fill="#ff1493" stroke="#8b0a50" stroke-width="0.5"/>
<rect x="222.3" y="482.9" width="4.0" height="4.0" fill="#ff1493" stroke="#8b0a50" stroke-width="0.5"/>
<rect x="229.8" y="485.6" width="4.0" height="4.0" fill="#ff1493" stroke="#8b0a50" stroke-width="0.5"/>
<rect x="231.5" y="485" width="4.0" height="4.0" fill="#ff1493" stroke="#8b0a50" stroke-width="0.5"/>
<rect x="235.2" y="495.8" width="4.0" height="4.0" fill="#ff1493" stroke="#8b0a50" stroke-width="0.5"/>
<rect x="243.9" y="502.4" width="4.0" height="4.0" fill="#ff1493" stroke="#8b0a50" stroke-width="0.5"/>
<rect x="242.3" y="505.5" width="4.0" height="4.0" fill="#ff1493" stroke="#8b0a50" stroke-width="0.5"/>
<rect x="247.9" y="485.9" width="4.0" height="4.0" fill="#ff1493" stroke="#8b0a50" stroke-width="0.5"/>
<rect x="255.3" y="482.2" width="4.0" height="4.0" fill="#ff1493" stroke="#8b0a50" stroke-width="0.5"/>
<rect x="257.2" y="483.4" width="4.0" height="4.0" fill="#ff1493" stroke="#8b0a50" stroke-width="0.5"/>
<rect x="268.7" y="510.2" width="4.0" height="4.0" fill="#ff1493" stroke="#8b0a50" stroke-width="0.5"/>
<rect x="269.9" y="512.6" width="4.0" height="4.0" fill="#ff1493" stroke="#8b0a50" stroke-width="0.5"/>
<rect x="286.3" y="521.3" width="4.0" height="4.0" fill="#ff1493" stroke="#8b0a50" stroke-width="0.5"/>
<rect x="353.7" y="498.6" width="4.0" height="4.0" fill="#ff1493" stroke="#8b0a50" stroke-width="0.5"/>
<rect x="355.5" y="508.5" width="4.0" height="4.0" fill="#ff1493" stroke="#8b0a50" stroke-width="0.5"/>
<rect x="357.4" y="507.7" width="4.0" height="4.0" fill="#ff1493" stroke="#8b0a50" stroke-width="0.5"/>
<rect x="364.5" y="507.7" width="4.0" height="4.0" fill="#ff1493" stroke="#8b0a50" stroke-width="0.5"/>
<rect x="366.4" y="502.3" width="4.0" height="4.0" fill="#ff1493" stroke="#8b0a50" stroke-width="0.5"/>
<rect x="367.8" y="518.8" width="4.0" height="4.0" fill="#ff1493" stroke="#8b0a50" stroke-width="0.5"/>
<rect x="370.1" y="525.8" width="4.0" height="4.0" fill="#ff1493" stroke="#8b0a50" stroke-width="0.5"/>
<rect x="381" y="518.8" width="4.0" height="4.0" fill="#ff1493" stroke="#8b0a50" stroke-width="0.5"/>
<rect x="383.1" y="521.8" width="4.0" height="4.0" fill="#ff1493" stroke="#8b0a50" stroke-width="0.5"/>
<rect x="378.7" y="525.8" width="4.0" height="4.0" fill="#ff1493" stroke="#8b0a50" stroke-width="0.5"/>
<rect x="391.9" y="525.8" width="4.0" height="4.0" fill="#ff1493" stroke="#8b0a50" stroke-width="0.5"/>
<rect x="433.1" y="455.3" width="4.0" height="4.0" fill="#ff1493" stroke="#8b0a50" stroke-width="0.5"/>
<rect x="421.1" y="461.5" width="4.0" height="4.0" fill="#ff1493" stroke="#8b0a50" stroke-width="0.5"/>
<rect x="426.1" y="463.4" width="4.0" height="4.0" fill="#ff1493" stroke="#8b0a50" stroke-width="0.5"/>
<rect x="431" y="462.1" width="4.0" height="4.0" fill="#ff1493" stroke="#8b0a50" stroke-width="0.5"/>
<rect x="420.1" y="466.8" width="4.0" height="4.0" fill="#ff1493" stroke="#8b0a50" stroke-width="0.5"/>
<rect x="419.5" y="470.5" width="4.0" height="4.0" fill="#ff1493" stroke="#8b0a50" stroke-width="0.5"/>
<rect x="425.1" y="467.1" width="4.0" height="4.0" fill="#ff1493" stroke="#8b0a50" stroke-width="0.5"/>
<rect x="425.7" y="471.4" width="4.0" height="4.0" fill="#ff1493" stroke="#8b0a50" stroke-width="0.5"/>
<rect x="430.6" y="467.7" width="4.0" height="4.0" fill="#ff1493" stroke="#8b0a50" stroke-width="0.5"/>
<rect x="422.6" y="484.4" width="4.0" height="4.0" fill="#ff1493" stroke="#8b0a50" stroke-width="0.5"/>
<rect x="421.6" y="488.1" width="4.0" height="4.0" fill="#ff1493" stroke="#8b0a50" stroke-width="0.5"/>
<rect x="436.2" y="483.8" width="4.0" height="4.0" fill="#ff1493" stroke="#8b0a50" stroke-width="0.5"/>
<rect x="437.8" y="489.4" width="4.0" height="4.0" fill="#ff1493" stroke="#8b0a50" stroke-width="0.5"/>
<rect x="424.4" y="501.7" width="4.0" height="4.0" fill="#ff1493" stroke="#8b0a50" stroke-width="0.5"/>
<rect x="424.8" y="506.7" width="4.0" height="4.0" fill="#ff1493" stroke="#8b0a50" stroke-width="0.5"/>
<rect x="417.9" y="514.3" width="4.0" height="4.0" fill="#ff1493" stroke="#8b0a50" stroke-width="0.5"/>
<rect x="427.5" y="465" width="4.0" height="4.0" fill="#ff1493" stroke="#8b0a50" stroke-width="0.5"/>
<rect x="423" y="464" width="4.0" height="4.0" fill="#ff1493" stroke="#8b0a50" stroke-width="0.5"/>
<rect x="446.7" y="459.7" width="4.0" height="4.0" fill="#ff1493" stroke="#8b0a50" stroke-width="0.5"/>
<rect x="449.8" y="457.8" width="4.0" height="4.0" fill="#ff1493" stroke="#8b0a50" stroke-width="0.5"/>
<rect x="450.4" y="461.5" width="4.0" height="4.0" fill="#ff1493" stroke="#8b0a50" stroke-width="0.5"/>
<rect x="452.2" y="463.4" width="4.0" height="4.0" fill="#ff1493" stroke="#8b0a50" stroke-width="0.5"/>
<rect x="447.9" y="465.8" width="4.0" height="4.0" fill="#ff1493" stroke="#8b0a50" stroke-width="0.5"/>
<rect x="451" y="466.5" width="4.0" height="4.0" fill="#ff1493" stroke="#8b0a50" stroke-width="0.5"/>
<rect x="444.8" y="484.4" width="4.0" height="4.0" fill="#ff1493" stroke="#8b0a50" stroke-width="0.5"/>
<rect x="455.9" y="471.4" width="4.0" height="4.0" fill="#ff1493" stroke="#8b0a50" stroke-width="0.5"/>
<rect x="460" y="471.8" width="4.0" height="4.0" fill="#ff1493" stroke="#8b0a50" stroke-width="0.5"/>
<rect x="461.3" y="480.1" width="4.0" height="4.0" fill="#ff1493" stroke="#8b0a50" stroke-width="0.5"/>
<rect x="457.8" y="483.2" width="4.0" height="4.0" fill="#ff1493" stroke="#8b0a50" stroke-width="0.5"/>
<rect x="463.4" y="485" width="4.0" height="4.0" fill="#ff1493" stroke="#8b0a50" stroke-width="0.5"/>
<rect x="470.8" y="485.4" width="4.0" height="4.0" fill="#ff1493" stroke="#8b0a50" stroke-width="0.5"/>
<rect x="472.6" y="486.3" width="4.0" height="4.0" fill="#ff1493" stroke="#8b0a50" stroke-width="0.5"/>
<rect x="468.3" y="488.1" width="4.0" height="4.0" fill="#ff1493" stroke="#8b0a50" stroke-width="0.5"/>
<rect x="466.5" y="490.3" width="4.0" height="4.0" fill="#ff1493" stroke="#8b0a50" stroke-width="0.5"/>
<rect x="438.6" y="489.4" width="4.0" height="4.0" fill="#ff1493" stroke="#8b0a50" stroke-width="0.5"/>
<rect x="474.1" y="508.2" width="4.0" height="4.0" fill="#ff1493" stroke="#8b0a50" stroke-width="0.5"/>
<rect x="476.4" y="509.8" width="4.0" height="4.0" fill="#ff1493" stroke="#8b0a50" stroke-width="0.5"/>
<rect x="480.1" y="486.9" width="4.0" height="4.0" fill="#ff1493" stroke="#8b0a50" stroke-width="0.5"/>
<rect x="481.9" y="490.6" width="4.0" height="4.0" fill="#ff1493" stroke="#8b0a50" stroke-width="0.5"/>
<rect x="483.2" y="472" width="4.0" height="4.0" fill="#ff1493" stroke="#8b0a50" stroke-width="0.5"/>
<rect x="486.9" y="469.3" width="4.0" height="4.0" fill="#ff1493" stroke="#8b0a50" stroke-width="0.5"/>
<rect x="492.4" y="482.9" width="4.0" height="4.0" fill="#ff1493" stroke="#8b0a50" stroke-width="0.5"/>
<rect x="496.1" y="478.8" width="4.0" height="4.0" fill="#ff1493" stroke="#8b0a50" stroke-width="0.5"/>
<rect x="498.2" y="478.5" width="4.0" height="4.0" fill="#ff1493" stroke="#8b0a50" stroke-width="0.5"/>
<rect x="499.8" y="490.6" width="4.0" height="4.0" fill="#ff1493" stroke="#8b0a50" stroke-width="0.5"/>
<rect x="505.4" y="488.8" width="4.0" height="4.0" fill="#ff1493" stroke="#8b0a50" stroke-width="0.5"/>
<rect x="507.2" y="490" width="4.0" height="4.0" fill="#ff1493" stroke="#8b0a50" stroke-width="0.5"/>
<rect x="511" y="488.1" width="4.0" height="4.0" fill="#ff1493" stroke="#8b0a50" stroke-width="0.5"/>
<rect x="512.6" y="500.5" width="4.0" height="4.0" fill="#ff1493" stroke="#8b0a50" stroke-width="0.5"/>
<rect x="517.8" y="496.8" width="4.0" height="4.0" fill="#ff1493" stroke="#8b0a50" stroke-width="0.5"/>
<rect x="520.2" y="499.9" width="4.0" height="4.0" fill="#ff1493" stroke="#8b0a50" stroke-width="0.5"/>
<rect x="521.7" y="501.1" width="4.0" height="4.0" fill="#ff1493" stroke="#8b0a50" stroke-width="0.5"/>
<rect x="523.7" y="499.9" width="4.0" height="4.0" fill="#ff1493" stroke="#8b0a50" stroke-width="0.5"/>
<rect x="525.2" y="516.4" width="4.0" height="4.0" fill="#ff1493" stroke="#8b0a50" stroke-width="0.5"/>
<rect x="534.5" y="495" width="4.0" height="4.0" fill="#ff1493" stroke="#8b0a50" stroke-width="0.5"/>
<rect x="533.9" y="496.8" width="4.0" height="4.0" fill="#ff1493" stroke="#8b0a50" stroke-width="0.5"/>
<rect x="549" y="502.4" width="4.0" height="4.0" fill="#ff1493" stroke="#8b0a50" stroke-width="0.5"/>
<rect x="535.1" y="511.7" width="4.0" height="4.0" fill="#ff1493" stroke="#8b0a50" stroke-width="0.5"/>
<rect x="536.9" y="509.8" width="4.0" height="4.0" fill="#ff1493" stroke="#8b0a50" stroke-width="0.5"/>
<rect x="539.4" y="507.3" width="4.0" height="4.0" fill="#ff1493" stroke="#8b0a50" stroke-width="0.5"/>
<rect x="541.3" y="508" width="4.0" height="4.0" fill="#ff1493" stroke="#8b0a50" stroke-width="0.5"/>
<rect x="540.7" y="511.7" width="4.0" height="4.0" fill="#ff1493" stroke="#8b0a50" stroke-width="0.5"/>
<rect x="535.7" y="516" width="4.0" height="4.0" fill="#ff1493" stroke="#8b0a50" stroke-width="0.5"/>
<rect x="538.8" y="516" width="4.0" height="4.0" fill="#ff1493" stroke="#8b0a50" stroke-width="0.5"/>
<rect x="538.8" y="521.6" width="4.0" height="4.0" fill="#ff1493" stroke="#8b0a50" stroke-width="0.5"/>
<polygon points="142.4,501.51 139.8,506.01 145,506.01" fill="#8a2be2" stroke="#551a8b" stroke-width="0.5"/>
<polygon points="143.9,517.61 141.3,522.11 146.5,522.11" fill="#8a2be2" stroke="#551a8b" stroke-width="0.5"/>
<polygon points="156.6,520.71 154,525.21 159.2,525.21" fill="#8a2be2" stroke="#551a8b" stroke-width="0.5"/>
<polygon points="155.4,525.01 152.8,529.51 158,529.51" fill="#8a2be2" stroke="#551a8b" stroke-width="0.5"/>
<polygon points="169.3,501.51 166.7,506.01 171.9,506.01" fill="#8a2be2" stroke="#551a8b" stroke-width="0.5"/>
<polygon points="168.1,513.51 165.5,518.01 170.7,518.01" fill="#8a2be2" stroke="#551a8b" stroke-width="0.5"/>
<polygon points="173.1,525.01 170.5,529.51 175.7,529.51" fill="#8a2be2" stroke="#551a8b" stroke-width="0.5"/>
<polygon points="180.7,532.51 178.1,537.01 183.3,537.01" fill="#8a2be2" stroke="#551a8b" stroke-width="0.5"/>
<polygon points="182,532.51 179.4,537.01 184.6,537.01" fill="#8a2be2" stroke="#551a8b" stroke-width="0.5"/>
<polygon points="185.9,532.51 183.3,537.01 188.5,537.01" fill="#8a2be2" stroke="#551a8b" stroke-width="0.5"/>
<polygon points="186,532.51 183.4,537.01 188.6,537.01" fill="#8a2be2" stroke="#551a8b" stroke-width="0.5"/>
<polygon points="193.7,509.01 191.1,513.51 196.3,513.51" fill="#8a2be2" stroke="#551a8b" stroke-width="0.5"/>
<polygon points="195.5,509.61 192.9,514.11 198.1,514.11" fill="#8a2be2" stroke="#551a8b" stroke-width="0.5"/>
<polygon points="198.6,513.31 196,517.81 201.2,517.81" fill="#8a2be2" stroke="#551a8b" stroke-width="0.5"/>
<polygon points="206,500.91 203.4,505.41 208.6,505.41" fill="#8a2be2" stroke="#551a8b" stroke-width="0.5"/>
<polygon points="207.9,500.91 205.3,505.41 210.5,505.41" fill="#8a2be2" stroke="#551a8b" stroke-width="0.5"/>
<polygon points="211.6,509.61 209,514.11 214.2,514.11" fill="#8a2be2" stroke="#551a8b" stroke-width="0.5"/>
<polygon points="219.6,532.51 217,537.01 222.2,537.01" fill="#8a2be2" stroke="#551a8b" stroke-width="0.5"/>
<polygon points="224.3,492.91 221.7,497.41 226.9,497.41" fill="#8a2be2" stroke="#551a8b" stroke-width="0.5"/>
<polygon points="231.8,493.51 229.2,498.01 234.4,498.01" fill="#8a2be2" stroke="#551a8b" stroke-width="0.5"/>
<polygon points="233.5,492.91 230.9,497.41 236.1,497.41" fill="#8a2be2" stroke="#551a8b" stroke-width="0.5"/>
<polygon points="237.2,499.71 234.6,504.21 239.8,504.21" fill="#8a2be2" stroke="#551a8b" stroke-width="0.5"/>
<polygon points="244.1,505.91 241.5,510.41 246.7,510.41" fill="#8a2be2" stroke="#551a8b" stroke-width="0.5"/>
<polygon points="245,506.51 242.4,511.01 247.6,511.01" fill="#8a2be2" stroke="#551a8b" stroke-width="0.5"/>
<polygon points="249.9,493.31 247.3,497.81 252.5,497.81" fill="#8a2be2" stroke="#551a8b" stroke-width="0.5"/>
<polygon points="257.3,491.71 254.7,496.21 259.9,496.21" fill="#8a2be2" stroke="#551a8b" stroke-width="0.5"/>
<polygon points="259.2,488.61 256.6,493.11 261.8,493.11" fill="#8a2be2" stroke="#551a8b" stroke-width="0.5"/>
<polygon points="270.7,517.71 268.1,522.21 273.3,522.21" fill="#8a2be2" stroke="#551a8b" stroke-width="0.5"/>
<polygon points="271.9,515.81 269.3,520.31 274.5,520.31" fill="#8a2be2" stroke="#551a8b" stroke-width="0.5"/>
<polygon points="275.7,512.11 273.1,516.61 278.3,516.61" fill="#8a2be2" stroke="#551a8b" stroke-width="0.5"/>
<polygon points="288.3,520.81 285.7,525.31 290.9,525.31" fill="#8a2be2" stroke="#551a8b" stroke-width="0.5"/>
<polygon points="283.3,532.51 280.7,537.01 285.9,537.01" fill="#8a2be2" stroke="#551a8b" stroke-width="0.5"/>
<polygon points="295.7,532.51 293.1,537.01 298.3,537.01" fill="#8a2be2" stroke="#551a8b" stroke-width="0.5"/>
<polygon points="420.3,525.01 417.7,529.51 422.9,529.51" fill="#8a2be2" stroke="#551a8b" stroke-width="0.5"/>
<polygon points="421.5,506.91 418.9,511.41 424.1,511.41" fill="#8a2be2" stroke="#551a8b" stroke-width="0.5"/>
<polygon points="425.8,515.81 423.2,520.31 428.4,520.31" fill="#8a2be2" stroke="#551a8b" stroke-width="0.5"/>
<polygon points="426.4,509.61 423.8,514.11 429,514.11" fill="#8a2be2" stroke="#551a8b" stroke-width="0.5"/>
<polygon points="425.8,502.21 423.2,506.71 428.4,506.71" fill="#8a2be2" stroke="#551a8b" stroke-width="0.5"/>
<polygon points="424,497.21 421.4,501.71 426.6,501.71" fill="#8a2be2" stroke="#551a8b" stroke-width="0.5"/>
<polygon points="422.7,493.51 420.1,498.01 425.3,498.01" fill="#8a2be2" stroke="#551a8b" stroke-width="0.5"/>
<polygon points="424.6,490.41 422,494.91 427.2,494.91" fill="#8a2be2" stroke="#551a8b" stroke-width="0.5"/>
<polygon points="428.3,481.11 425.7,485.61 430.9,485.61" fill="#8a2be2" stroke="#551a8b" stroke-width="0.5"/>
<polygon points="427.7,476.21 425.1,480.71 430.3,480.71" fill="#8a2be2" stroke="#551a8b" stroke-width="0.5"/>
<polygon points="431.4,472.51 428.8,477.01 434,477.01" fill="#8a2be2" stroke="#551a8b" stroke-width="0.5"/>
<polygon points="432.6,475.61 430,480.11 435.2,480.11" fill="#8a2be2" stroke="#551a8b" stroke-width="0.5"/>
<polygon points="433.9,478.71 431.3,483.21 436.5,483.21" fill="#8a2be2" stroke="#551a8b" stroke-width="0.5"/>
<polygon points="435.7,483.61 433.1,488.11 438.3,488.11" fill="#8a2be2" stroke="#551a8b" stroke-width="0.5"/>
<polygon points="430.8,479.91 428.2,484.41 433.4,484.41" fill="#8a2be2" stroke="#551a8b" stroke-width="0.5"/>
<polygon points="437.6,492.91 435,497.41 440.2,497.41" fill="#8a2be2" stroke="#551a8b" stroke-width="0.5"/>
<polygon points="439.4,500.31 436.8,504.81 442,504.81" fill="#8a2be2" stroke="#551a8b" stroke-width="0.5"/>
<polygon points="429,474.21 426.4,478.71 431.6,478.71" fill="#8a2be2" stroke="#551a8b" stroke-width="0.5"/>
<polygon points="448.7,469.41 446.1,473.91 451.3,473.91" fill="#8a2be2" stroke="#551a8b" stroke-width="0.5"/>
<polygon points="451.8,468.81 449.2,473.31 454.4,473.31" fill="#8a2be2" stroke="#551a8b" stroke-width="0.5"/>
<polygon points="449.3,473.11 446.7,477.61 451.9,477.61" fill="#8a2be2" stroke="#551a8b" stroke-width="0.5"/>
<polygon points="453.6,473.71 451,478.21 456.2,478.21" fill="#8a2be2" stroke="#551a8b" stroke-width="0.5"/>
<polygon points="456.1,477.41 453.5,481.91 458.7,481.91" fill="#8a2be2" stroke="#551a8b" stroke-width="0.5"/>
<polygon points="457.9,473.11 455.3,477.61 460.5,477.61" fill="#8a2be2" stroke="#551a8b" stroke-width="0.5"/>
<polygon points="446.8,504.01 444.2,508.51 449.4,508.51" fill="#8a2be2" stroke="#551a8b" stroke-width="0.5"/>
<polygon points="459.8,499.71 457.2,504.21 462.4,504.21" fill="#8a2be2" stroke="#551a8b" stroke-width="0.5"/>
<polygon points="462,487.91 459.4,492.41 464.6,492.41" fill="#8a2be2" stroke="#551a8b" stroke-width="0.5"/>
<polygon points="463.5,489.81 460.9,494.31 466.1,494.31" fill="#8a2be2" stroke="#551a8b" stroke-width="0.5"/>
<polygon points="465.4,492.91 462.8,497.41 468,497.41" fill="#8a2be2" stroke="#551a8b" stroke-width="0.5"/>
<polygon points="469.1,492.91 466.5,497.41 471.7,497.41" fill="#8a2be2" stroke="#551a8b" stroke-width="0.5"/>
<polygon points="470.3,500.91 467.7,505.41 472.9,505.41" fill="#8a2be2" stroke="#551a8b" stroke-width="0.5"/>
<polygon points="472.8,504.01 470.2,508.51 475.4,508.51" fill="#8a2be2" stroke="#551a8b" stroke-width="0.5"/>
<polygon points="474.6,515.21 472,519.71 477.2,519.71" fill="#8a2be2" stroke="#551a8b" stroke-width="0.5"/>
<polygon points="477.7,511.41 475.1,515.91 480.3,515.91" fill="#8a2be2" stroke="#551a8b" stroke-width="0.5"/>
<polygon points="482.1,495.41 479.5,499.91 484.7,499.91" fill="#8a2be2" stroke="#551a8b" stroke-width="0.5"/>
<polygon points="483.9,494.11 481.3,498.61 486.5,498.61" fill="#8a2be2" stroke="#551a8b" stroke-width="0.5"/>
<polygon points="485.8,472.51 483.2,477.01 488.4,477.01" fill="#8a2be2" stroke="#551a8b" stroke-width="0.5"/>
<polygon points="489.5,468.81 486.9,473.31 492.1,473.31" fill="#8a2be2" stroke="#551a8b" stroke-width="0.5"/>
<polygon points="490.7,476.81 488.1,481.31 493.3,481.31" fill="#8a2be2" stroke="#551a8b" stroke-width="0.5"/>
<polygon points="494.4,487.91 491.8,492.41 497,492.41" fill="#8a2be2" stroke="#551a8b" stroke-width="0.5"/>
<polygon points="496.3,490.41 493.7,494.91 498.9,494.91" fill="#8a2be2" stroke="#551a8b" stroke-width="0.5"/>
<polygon points="498.1,485.51 495.5,490.01 500.7,490.01" fill="#8a2be2" stroke="#551a8b" stroke-width="0.5"/>
<polygon points="499.4,494.11 496.8,498.61 502,498.61" fill="#8a2be2" stroke="#551a8b" stroke-width="0.5"/>
<polygon points="440.6,500.31 438,504.81 443.2,504.81" fill="#8a2be2" stroke="#551a8b" stroke-width="0.5"/>
<polygon points="498.1,484.91 495.5,489.41 500.7,489.41" fill="#8a2be2" stroke="#551a8b" stroke-width="0.5"/>
<polygon points="496.2,489.21 493.6,493.71 498.8,493.71" fill="#8a2be2" stroke="#551a8b" stroke-width="0.5"/>
<polygon points="501.2,492.91 498.6,497.41 503.8,497.41" fill="#8a2be2" stroke="#551a8b" stroke-width="0.5"/>
<polygon points="500,494.21 497.4,498.71 502.6,498.71" fill="#8a2be2" stroke="#551a8b" stroke-width="0.5"/>
<polygon points="508.6,505.91 506,510.41 511.2,510.41" fill="#8a2be2" stroke="#551a8b" stroke-width="0.5"/>
<polygon points="513,506.51 510.4,511.01 515.6,511.01" fill="#8a2be2" stroke="#551a8b" stroke-width="0.5"/>
<polygon points="507.1,513.31 504.5,517.81 509.7,517.81" fill="#8a2be2" stroke="#551a8b" stroke-width="0.5"/>
<polygon points="519.8,515.21 517.2,519.71 522.4,519.71" fill="#8a2be2" stroke="#551a8b" stroke-width="0.5"/>
<polygon points="514.6,520.81 512,525.31 517.2,525.31" fill="#8a2be2" stroke="#551a8b" stroke-width="0.5"/>
<polygon points="521.6,520.81 519,525.31 524.2,525.31" fill="#8a2be2" stroke="#551a8b" stroke-width="0.5"/>
<polygon points="527.4,520.81 524.8,525.31 530,525.31" fill="#8a2be2" stroke="#551a8b" stroke-width="0.5"/>
<polygon points="523.5,525.11 520.9,529.61 526.1,529.61" fill="#8a2be2" stroke="#551a8b" stroke-width="0.5"/>
<polygon points="535.2,520.11 532.6,524.61 537.8,524.61" fill="#8a2be2" stroke="#551a8b" stroke-width="0.5"/>
<polygon points="537.1,520.81 534.5,525.31 539.7,525.31" fill="#8a2be2" stroke="#551a8b" stroke-width="0.5"/>
<polygon points="535.9,524.51 533.3,529.01 538.5,529.01" fill="#8a2be2" stroke="#551a8b" stroke-width="0.5"/>
<polygon points="539.6,524.51 537,529.01 542.2,529.01" fill="#8a2be2" stroke="#551a8b" stroke-width="0.5"/>
<polygon points="541.4,525.11 538.8,529.61 544,529.61" fill="#8a2be2" stroke="#551a8b" stroke-width="0.5"/>
<polygon points="551.3,520.81 548.7,525.31 553.9,525.31" fill="#8a2be2" stroke="#551a8b" stroke-width="0.5"/>
<polygon points="525.3,532.51 522.7,537.01 527.9,537.01" fill="#8a2be2" stroke="#551a8b" stroke-width="0.5"/>
<polygon points="339.3,532.51 336.7,537.01 341.9,537.01" fill="#8a2be2" stroke="#551a8b" stroke-width="0.5"/>
<polygon points="341.2,532.51 338.6,537.01 343.8,537.01" fill="#8a2be2" stroke="#551a8b" stroke-width="0.5"/>
<polygon points="343.1,532.51 340.5,537.01 345.7,537.01" fill="#8a2be2" stroke="#551a8b" stroke-width="0.5"/>
<polygon points="345,532.51 342.4,537.01 347.6,537.01" fill="#8a2be2" stroke="#551a8b" stroke-width="0.5"/>
<polygon points="346.9,532.51 344.3,537.01 349.5,537.01" fill="#8a2be2" stroke="#551a8b" stroke-width="0.5"/>
<polygon points="348.8,532.51 346.2,537.01 351.4,537.01" fill="#8a2be2" stroke="#551a8b" stroke-width="0.5"/>
<polygon points="350.7,532.51 348.1,537.01 353.3,537.01" fill="#8a2be2" stroke="#551a8b" stroke-width="0.5"/>
<polygon points="352.9,532.51 350.3,537.01 355.5,537.01" fill="#8a2be2" stroke="#551a8b" stroke-width="0.5"/>
<polygon points="354.8,532.51 352.2,537.01 357.4,537.01" fill="#8a2be2" stroke="#551a8b" stroke-width="0.5"/>
<polygon points="356.7,532.51 354.1,537.01 359.3,537.01" fill="#8a2be2" stroke="#551a8b" stroke-width="0.5"/>
<polygon points="358.6,532.51 356,537.01 361.2,537.01" fill="#8a2be2" stroke="#551a8b" stroke-width="0.5"/>
<polygon points="362,532.51 359.4,537.01 364.6,537.01" fill="#8a2be2" stroke="#551a8b" stroke-width="0.5"/>
<polygon points="363.9,532.51 361.3,537.01 366.5,537.01" fill="#8a2be2" stroke="#551a8b" stroke-width="0.5"/>
<polygon points="365.9,532.51 363.3,537.01 368.5,537.01" fill="#8a2be2" stroke="#551a8b" stroke-width="0.5"/>
<polygon points="367.8,532.51 365.2,537.01 370.4,537.01" fill="#8a2be2" stroke="#551a8b" stroke-width="0.5"/>
<polygon points="369.7,532.51 367.1,537.01 372.3,537.01" fill="#8a2be2" stroke="#551a8b" stroke-width="0.5"/>
<polygon points="371.6,532.51 369,537.01 374.2,537.01" fill="#8a2be2" stroke="#551a8b" stroke-width="0.5"/>
<polygon points="373.5,532.51 370.9,537.01 376.1,537.01" fill="#8a2be2" stroke="#551a8b" stroke-width="0.5"/>
<polygon points="378.2,532.51 375.6,537.01 380.8,537.01" fill="#8a2be2" stroke="#551a8b" stroke-width="0.5"/>
<polygon points="380.1,532.51 377.5,537.01 382.7,537.01" fill="#8a2be2" stroke="#551a8b" stroke-width="0.5"/>
<polygon points="382,532.51 379.4,537.01 384.6,537.01" fill="#8a2be2" stroke="#551a8b" stroke-width="0.5"/>
<polygon points="383.9,532.51 381.3,537.01 386.5,537.01" fill="#8a2be2" stroke="#551a8b" stroke-width="0.5"/>
<polygon points="385.8,532.51 383.2,537.01 388.4,537.01" fill="#8a2be2" stroke="#551a8b" stroke-width="0.5"/>
<polygon points="387.7,532.51 385.1,537.01 390.3,537.01" fill="#8a2be2" stroke="#551a8b" stroke-width="0.5"/>
<polygon points="389.6,532.51 387,537.01 392.2,537.01" fill="#8a2be2" stroke="#551a8b" stroke-width="0.5"/>
<polygon points="393.7,532.51 391.1,537.01 396.3,537.01" fill="#8a2be2" stroke="#551a8b" stroke-width="0.5"/>
<polygon points="395.6,532.51 393,537.01 398.2,537.01" fill="#8a2be2" stroke="#551a8b" stroke-width="0.5"/>
<polygon points="397.5,532.51 394.9,537.01 400.1,537.01" fill="#8a2be2" stroke="#551a8b" stroke-width="0.5"/>
<polygon points="399.4,532.51 396.8,537.01 402,537.01" fill="#8a2be2" stroke="#551a8b" stroke-width="0.5"/>
<polygon points="401.3,532.51 398.7,537.01 403.9,537.01" fill="#8a2be2" stroke="#551a8b" stroke-width="0.5"/>
<polygon points="403.2,532.51 400.6,537.01 405.8,537.01" fill="#8a2be2" stroke="#551a8b" stroke-width="0.5"/>
<polygon points="405.1,532.51 402.5,537.01 407.7,537.01" fill="#8a2be2" stroke="#551a8b" stroke-width="0.5"/>
<polygon points="407,532.51 404.4,537.01 409.6,537.01" fill="#8a2be2" stroke="#551a8b" stroke-width="0.5"/>
<polygon points="408.9,532.51 406.3,537.01 411.5,537.01" fill="#8a2be2" stroke="#551a8b" stroke-width="0.5"/>
<polygon points="410.8,532.51 408.2,537.01 413.4,537.01" fill="#8a2be2" stroke="#551a8b" stroke-width="0.5"/>
<polygon points="412.7,532.51 410.1,537.01 415.3,537.01" fill="#8a2be2" stroke="#551a8b" stroke-width="0.5"/>
<polygon points="414.6,532.51 412,537.01 417.2,537.01" fill="#8a2be2" stroke="#551a8b" stroke-width="0.5"/>
<polygon points="416.5,532.51 413.9,537.01 419.1,537.01" fill="#8a2be2" stroke="#551a8b" stroke-width="0.5"/>
<polygon points="418.4,532.51 415.8,537.01 421,537.01" fill="#8a2be2" stroke="#551a8b" stroke-width="0.5"/>
<polygon points="420.3,532.51 417.7,537.01 422.9,537.01" fill="#8a2be2" stroke="#551a8b" stroke-width="0.5"/>
<polygon points="530.3,532.51 527.7,537.01 532.9,537.01" fill="#8a2be2" stroke="#551a8b" stroke-width="0.5"/>
<polygon points="532.2,532.51 529.6,537.01 534.8,537.01" fill="#8a2be2" stroke="#551a8b" stroke-width="0.5"/>
<polygon points="534.1,532.51 531.5,537.01 536.7,537.01" fill="#8a2be2" stroke="#551a8b" stroke-width="0.5"/>
<polygon points="536,532.51 533.4,537.01 538.6,537.01" fill="#8a2be2" stroke="#551a8b" stroke-width="0.5"/>
<polygon points="537.9,532.51 535.3,537.01 540.5,537.01" fill="#8a2be2" stroke="#551a8b" stroke-width="0.5"/>
<polygon points="539.8,532.51 537.2,537.01 542.4,537.01" fill="#8a2be2" stroke="#551a8b" stroke-width="0.5"/>
<polygon points="541.7,532.51 539.1,537.01 544.3,537.01" fill="#8a2be2" stroke="#551a8b" stroke-width="0.5"/>
<polygon points="543.6,532.51 541,537.01 546.2,537.01" fill="#8a2be2" stroke="#551a8b" stroke-width="0.5"/>
</g>
<g clip-path="url(#clipFL)">
<circle cx="92.7" cy="585.8" r="2.55" fill="#f0e442"/>
<circle cx="142.4" cy="581.7" r="2.55" fill="#f0e442"/>
<circle cx="143.9" cy="581.1" r="2.55" fill="#f0e442"/>
<circle cx="155.4" cy="587.9" r="2.55" fill="#f0e442"/>
<circle cx="156.6" cy="585.4" r="2.55" fill="#f0e442"/>
<circle cx="168.4" cy="587.9" r="2.55" fill="#f0e442"/>
<circle cx="169.6" cy="588.8" r="2.55" fill="#f0e442"/>
<circle cx="180.7" cy="587.3" r="2.55" fill="#f0e442"/>
<circle cx="182.2" cy="590.7" r="2.55" fill="#f0e442"/>
<circle cx="193.7" cy="586.7" r="2.55" fill="#f0e442"/>
<circle cx="195.5" cy="588.8" r="2.55" fill="#f0e442"/>
<circle cx="207.3" cy="579.6" r="2.55" fill="#f0e442"/>
<circle cx="219.6" cy="587.9" r="2.55" fill="#f0e442"/>
<circle cx="220.9" cy="586" r="2.55" fill="#f0e442"/>
<circle cx="232.6" cy="579.2" r="2.55" fill="#f0e442"/>
<circle cx="233.5" cy="580.5" r="2.55" fill="#f0e442"/>
<circle cx="245" cy="588.5" r="2.55" fill="#f0e442"/>
<circle cx="246.2" cy="589.8" r="2.55" fill="#f0e442"/>
<circle cx="258.3" cy="578.4" r="2.55" fill="#f0e442"/>
<circle cx="270.9" cy="589.1" r="2.55" fill="#f0e442"/>
<circle cx="271.9" cy="587" r="2.55" fill="#f0e442"/>
<circle cx="283.6" cy="591.6" r="2.55" fill="#f0e442"/>
<circle cx="284.6" cy="590.7" r="2.55" fill="#f0e442"/>
<circle cx="296.3" cy="590.4" r="2.55" fill="#f0e442"/>
<circle cx="297.2" cy="589.5" r="2.55" fill="#f0e442"/>
<circle cx="344.6" cy="571.8" r="2.55" fill="#f0e442"/>
<circle cx="357.5" cy="572.7" r="2.55" fill="#f0e442"/>
<circle cx="359.1" cy="575.9" r="2.55" fill="#f0e442"/>
<circle cx="370.2" cy="573.4" r="2.55" fill="#f0e442"/>
<circle cx="372.1" cy="579.8" r="2.55" fill="#f0e442"/>
<circle cx="333.7" cy="594.4" r="2.55" fill="#f0e442"/>
<circle cx="346.3" cy="591" r="2.55" fill="#f0e442"/>
<circle cx="383" cy="578" r="2.55" fill="#f0e442"/>
<circle cx="384.7" cy="579.8" r="2.55" fill="#f0e442"/>
<circle cx="408.5" cy="578.6" r="2.55" fill="#f0e442"/>
<circle cx="397.4" cy="594.7" r="2.55" fill="#f0e442"/>
<circle cx="420.3" cy="573.7" r="2.55" fill="#f0e442"/>
<circle cx="421" cy="576" r="2.55" fill="#f0e442"/>
<circle cx="422.1" cy="578.6" r="2.55" fill="#f0e442"/>
<circle cx="423.3" cy="577.3" r="2.55" fill="#f0e442"/>
<circle cx="424.6" cy="576.1" r="2.55" fill="#f0e442"/>
<circle cx="426.2" cy="574.2" r="2.55" fill="#f0e442"/>
<circle cx="427.7" cy="572.4" r="2.55" fill="#f0e442"/>
<circle cx="429.5" cy="571.4" r="2.55" fill="#f0e442"/>
<circle cx="431.4" cy="570.6" r="2.55" fill="#f0e442"/>
<circle cx="433.5" cy="570.9" r="2.55" fill="#f0e442"/>
<circle cx="435.7" cy="571.2" r="2.55" fill="#f0e442"/>
<circle cx="437" cy="571" r="2.55" fill="#f0e442"/>
<circle cx="446.5" cy="573" r="2.55" fill="#f0e442"/>
<circle cx="448.5" cy="574" r="2.55" fill="#f0e442"/>
<circle cx="450.5" cy="574.5" r="2.55" fill="#f0e442"/>
<circle cx="452.5" cy="574.2" r="2.55" fill="#f0e442"/>
<circle cx="454.5" cy="574.8" r="2.55" fill="#f0e442"/>
<circle cx="456" cy="574" r="2.55" fill="#f0e442"/>
<circle cx="447.5" cy="575.8" r="2.55" fill="#f0e442"/>
<circle cx="451" cy="576" r="2.55" fill="#f0e442"/>
<circle cx="455" cy="576.2" r="2.55" fill="#f0e442"/>
<circle cx="461.6" cy="574.9" r="2.55" fill="#f0e442"/>
<circle cx="471.9" cy="577.4" r="2.55" fill="#f0e442"/>
<circle cx="474.6" cy="576.4" r="2.55" fill="#f0e442"/>
<circle cx="485.2" cy="576.1" r="2.55" fill="#f0e442"/>
<circle cx="487.6" cy="578" r="2.55" fill="#f0e442"/>
<circle cx="523.7" cy="573" r="2.55" fill="#f0e442"/>
<circle cx="525.3" cy="576.8" r="2.55" fill="#f0e442"/>
<circle cx="534.6" cy="574.7" r="2.55" fill="#f0e442"/>
<circle cx="513" cy="587" r="2.55" fill="#f0e442"/>
<circle cx="551.3" cy="590.7" r="2.55" fill="#f0e442"/>
<circle cx="535" cy="580.5" r="2.55" fill="#f0e442"/>
<circle cx="536.5" cy="582" r="2.55" fill="#f0e442"/>
<circle cx="538" cy="583.5" r="2.55" fill="#f0e442"/>
<circle cx="539.5" cy="585" r="2.55" fill="#f0e442"/>
<circle cx="541" cy="586.5" r="2.55" fill="#f0e442"/>
<circle cx="542.5" cy="588" r="2.55" fill="#f0e442"/>
<circle cx="537" cy="580.5" r="2.55" fill="#f0e442"/>
<circle cx="539" cy="582" r="2.55" fill="#f0e442"/>
<circle cx="541" cy="583.8" r="2.55" fill="#f0e442"/>
<circle cx="542.8" cy="585.8" r="2.55" fill="#f0e442"/>
<circle cx="536" cy="584" r="2.55" fill="#f0e442"/>
<circle cx="538" cy="586" r="2.55" fill="#f0e442"/>
<rect x="90.5" y="609.2" width="4.4" height="4.4" fill="#e69f00"/>
<rect x="141.7" y="604.2" width="4.4" height="4.4" fill="#e69f00"/>
<rect x="140.2" y="606.7" width="4.4" height="4.4" fill="#e69f00"/>
<rect x="153.2" y="609.6" width="4.4" height="4.4" fill="#e69f00"/>
<rect x="154.4" y="609.6" width="4.4" height="4.4" fill="#e69f00"/>
<rect x="165.5" y="614.5" width="4.4" height="4.4" fill="#e69f00"/>
<rect x="167.4" y="615.8" width="4.4" height="4.4" fill="#e69f00"/>
<rect x="178.8" y="609.8" width="4.4" height="4.4" fill="#e69f00"/>
<rect x="179.8" y="617.5" width="4.4" height="4.4" fill="#e69f00"/>
<rect x="192.1" y="609.6" width="4.4" height="4.4" fill="#e69f00"/>
<rect x="205.1" y="603.4" width="4.4" height="4.4" fill="#e69f00"/>
<rect x="218.7" y="612.5" width="4.4" height="4.4" fill="#e69f00"/>
<rect x="217.2" y="616.6" width="4.4" height="4.4" fill="#e69f00"/>
<rect x="230.4" y="596.8" width="4.4" height="4.4" fill="#e69f00"/>
<rect x="242.5" y="608" width="4.4" height="4.4" fill="#e69f00"/>
<rect x="244" y="610.8" width="4.4" height="4.4" fill="#e69f00"/>
<rect x="256.1" y="598.9" width="4.4" height="4.4" fill="#e69f00"/>
<rect x="269" y="612.3" width="4.4" height="4.4" fill="#e69f00"/>
<rect x="269.4" y="613.8" width="4.4" height="4.4" fill="#e69f00"/>
<rect x="281.8" y="612.9" width="4.4" height="4.4" fill="#e69f00"/>
<rect x="281.1" y="614.8" width="4.4" height="4.4" fill="#e69f00"/>
<rect x="294.1" y="613.6" width="4.4" height="4.4" fill="#e69f00"/>
<rect x="295" y="615.4" width="4.4" height="4.4" fill="#e69f00"/>
<rect x="331.5" y="617.9" width="4.4" height="4.4" fill="#e69f00"/>
<rect x="342.4" y="613.5" width="4.4" height="4.4" fill="#e69f00"/>
<rect x="344.1" y="617.9" width="4.4" height="4.4" fill="#e69f00"/>
<rect x="356.9" y="610.4" width="4.4" height="4.4" fill="#e69f00"/>
<rect x="355" y="618.7" width="4.4" height="4.4" fill="#e69f00"/>
<rect x="368" y="609.2" width="4.4" height="4.4" fill="#e69f00"/>
<rect x="369.9" y="609.2" width="4.4" height="4.4" fill="#e69f00"/>
<rect x="380.8" y="609.2" width="4.4" height="4.4" fill="#e69f00"/>
<rect x="382.5" y="609.8" width="4.4" height="4.4" fill="#e69f00"/>
<rect x="383.4" y="609.6" width="4.4" height="4.4" fill="#e69f00"/>
<rect x="406.3" y="612" width="4.4" height="4.4" fill="#e69f00"/>
<rect x="395.2" y="625.9" width="4.4" height="4.4" fill="#e69f00"/>
<rect x="418.1" y="614.8" width="4.4" height="4.4" fill="#e69f00"/>
<rect x="418.8" y="610.8" width="4.4" height="4.4" fill="#e69f00"/>
<rect x="419.3" y="606.1" width="4.4" height="4.4" fill="#e69f00"/>
<rect x="419.3" y="599.9" width="4.4" height="4.4" fill="#e69f00"/>
<rect x="420.8" y="603.8" width="4.4" height="4.4" fill="#e69f00"/>
<rect x="422.4" y="603.6" width="4.4" height="4.4" fill="#e69f00"/>
<rect x="423.8" y="600.8" width="4.4" height="4.4" fill="#e69f00"/>
<rect x="425.5" y="598.7" width="4.4" height="4.4" fill="#e69f00"/>
<rect x="427.3" y="593.7" width="4.4" height="4.4" fill="#e69f00"/>
<rect x="428.8" y="595.8" width="4.4" height="4.4" fill="#e69f00"/>
<rect x="430.3" y="593.8" width="4.4" height="4.4" fill="#e69f00"/>
<rect x="432.3" y="593.7" width="4.4" height="4.4" fill="#e69f00"/>
<rect x="433.5" y="596.2" width="4.4" height="4.4" fill="#e69f00"/>
<rect x="431.7" y="599.9" width="4.4" height="4.4" fill="#e69f00"/>
<rect x="427.8" y="598.8" width="4.4" height="4.4" fill="#e69f00"/>
<rect x="443.8" y="589.8" width="4.4" height="4.4" fill="#e69f00"/>
<rect x="445.8" y="587.8" width="4.4" height="4.4" fill="#e69f00"/>
<rect x="447.8" y="586.8" width="4.4" height="4.4" fill="#e69f00"/>
<rect x="449.8" y="587.8" width="4.4" height="4.4" fill="#e69f00"/>
<rect x="451.8" y="588.8" width="4.4" height="4.4" fill="#e69f00"/>
<rect x="444.8" y="590.8" width="4.4" height="4.4" fill="#e69f00"/>
<rect x="449.3" y="589.8" width="4.4" height="4.4" fill="#e69f00"/>
<rect x="445.8" y="595.8" width="4.4" height="4.4" fill="#e69f00"/>
<rect x="447.8" y="597.3" width="4.4" height="4.4" fill="#e69f00"/>
<rect x="449.8" y="596.3" width="4.4" height="4.4" fill="#e69f00"/>
<rect x="451.8" y="595.8" width="4.4" height="4.4" fill="#e69f00"/>
<rect x="453.3" y="596.8" width="4.4" height="4.4" fill="#e69f00"/>
<rect x="446.8" y="598.8" width="4.4" height="4.4" fill="#e69f00"/>
<rect x="450.8" y="598.8" width="4.4" height="4.4" fill="#e69f00"/>
<rect x="459.8" y="598.7" width="4.4" height="4.4" fill="#e69f00"/>
<rect x="472.2" y="597.4" width="4.4" height="4.4" fill="#e69f00"/>
<rect x="470.2" y="605.1" width="4.4" height="4.4" fill="#e69f00"/>
<rect x="484.8" y="596" width="4.4" height="4.4" fill="#e69f00"/>
<rect x="483" y="603" width="4.4" height="4.4" fill="#e69f00"/>
<rect x="510.8" y="598.7" width="4.4" height="4.4" fill="#e69f00"/>
<rect x="521.5" y="599.7" width="4.4" height="4.4" fill="#e69f00"/>
<rect x="523.5" y="606.4" width="4.4" height="4.4" fill="#e69f00"/>
<rect x="532.7" y="598.1" width="4.4" height="4.4" fill="#e69f00"/>
<rect x="533.3" y="601.8" width="4.4" height="4.4" fill="#e69f00"/>
<rect x="535.3" y="602.8" width="4.4" height="4.4" fill="#e69f00"/>
<rect x="537.3" y="603.8" width="4.4" height="4.4" fill="#e69f00"/>
<rect x="539.3" y="602.8" width="4.4" height="4.4" fill="#e69f00"/>
<rect x="540.8" y="604.8" width="4.4" height="4.4" fill="#e69f00"/>
<rect x="533.8" y="605.8" width="4.4" height="4.4" fill="#e69f00"/>
<rect x="535.8" y="606.8" width="4.4" height="4.4" fill="#e69f00"/>
<rect x="537.8" y="607.8" width="4.4" height="4.4" fill="#e69f00"/>
<rect x="539.8" y="606.8" width="4.4" height="4.4" fill="#e69f00"/>
<rect x="536.8" y="609.8" width="4.4" height="4.4" fill="#e69f00"/>
<rect x="538.8" y="611.3" width="4.4" height="4.4" fill="#e69f00"/>
<rect x="535.3" y="604.3" width="4.4" height="4.4" fill="#e69f00"/>
<polygon points="92.7,624.39 89.8,629.41 95.6,629.41" fill="#8b1a1a"/>
<polygon points="143,620.99 140.1,626.01 145.9,626.01" fill="#8b1a1a"/>
<polygon points="144.2,620.99 141.3,626.01 147.1,626.01" fill="#8b1a1a"/>
<polygon points="154.7,622.29 151.8,627.31 157.6,627.31" fill="#8b1a1a"/>
<polygon points="156.6,623.09 153.7,628.11 159.5,628.11" fill="#8b1a1a"/>
<polygon points="168.4,626.49 165.5,631.51 171.3,631.51" fill="#8b1a1a"/>
<polygon points="169.6,626.49 166.7,631.51 172.5,631.51" fill="#8b1a1a"/>
<polygon points="181,630.59 178.1,635.61 183.9,635.61" fill="#8b1a1a"/>
<polygon points="182.2,644.59 179.3,649.61 185.1,649.61" fill="#8b1a1a"/>
<polygon points="193.7,618.19 190.8,623.21 196.6,623.21" fill="#8b1a1a"/>
<polygon points="194.9,622.49 192,627.51 197.8,627.51" fill="#8b1a1a"/>
<polygon points="207,615.09 204.1,620.11 209.9,620.11" fill="#8b1a1a"/>
<polygon points="232.6,605.19 229.7,610.21 235.5,610.21" fill="#8b1a1a"/>
<polygon points="219.6,644.59 216.7,649.61 222.5,649.61" fill="#8b1a1a"/>
<polygon points="244.4,621.29 241.5,626.31 247.3,626.31" fill="#8b1a1a"/>
<polygon points="245.2,621.29 242.3,626.31 248.1,626.31" fill="#8b1a1a"/>
<polygon points="258.3,607.69 255.4,612.71 261.2,612.71" fill="#8b1a1a"/>
<polygon points="271.6,624.39 268.7,629.41 274.5,629.41" fill="#8b1a1a"/>
<polygon points="271,625.69 268.1,630.71 273.9,630.71" fill="#8b1a1a"/>
<polygon points="284.3,629.39 281.4,634.41 287.2,634.41" fill="#8b1a1a"/>
<polygon points="296.9,629.39 294,634.41 299.8,634.41" fill="#8b1a1a"/>
<polygon points="372.1,628.09 369.2,633.11 375,633.11" fill="#8b1a1a"/>
<polygon points="383,631.79 380.1,636.81 385.9,636.81" fill="#8b1a1a"/>
<polygon points="333.5,644.59 330.6,649.61 336.4,649.61" fill="#8b1a1a"/>
<polygon points="344.6,644.59 341.7,649.61 347.5,649.61" fill="#8b1a1a"/>
<polygon points="345.8,644.59 342.9,649.61 348.7,649.61" fill="#8b1a1a"/>
<polygon points="357.5,644.59 354.6,649.61 360.4,649.61" fill="#8b1a1a"/>
<polygon points="359.1,644.59 356.2,649.61 362,649.61" fill="#8b1a1a"/>
<polygon points="370.2,644.59 367.3,649.61 373.1,649.61" fill="#8b1a1a"/>
<polygon points="384.7,644.59 381.8,649.61 387.6,649.61" fill="#8b1a1a"/>
<polygon points="397.4,644.59 394.5,649.61 400.3,649.61" fill="#8b1a1a"/>
<polygon points="408.5,644.59 405.6,649.61 411.4,649.61" fill="#8b1a1a"/>
<polygon points="420.9,644.59 418,649.61 423.8,649.61" fill="#8b1a1a"/>
<polygon points="420.9,626.19 418,631.21 423.8,631.21" fill="#8b1a1a"/>
<polygon points="421.5,623.89 418.6,628.91 424.4,628.91" fill="#8b1a1a"/>
<polygon points="422.1,621.29 419.2,626.31 425,626.31" fill="#8b1a1a"/>
<polygon points="423,618.89 420.1,623.91 425.9,623.91" fill="#8b1a1a"/>
<polygon points="424,616.99 421.1,622.01 426.9,622.01" fill="#8b1a1a"/>
<polygon points="425,614.89 422.1,619.91 427.9,619.91" fill="#8b1a1a"/>
<polygon points="425.8,612.59 422.9,617.61 428.7,617.61" fill="#8b1a1a"/>
<polygon points="427,610.09 424.1,615.11 429.9,615.11" fill="#8b1a1a"/>
<polygon points="428.3,607.69 425.4,612.71 431.2,612.71" fill="#8b1a1a"/>
<polygon points="429.2,605.89 426.3,610.91 432.1,610.91" fill="#8b1a1a"/>
<polygon points="430.2,604.59 427.3,609.61 433.1,609.61" fill="#8b1a1a"/>
<polygon points="431.5,604.39 428.6,609.41 434.4,609.41" fill="#8b1a1a"/>
<polygon points="432.6,605.19 429.7,610.21 435.5,610.21" fill="#8b1a1a"/>
<polygon points="434,605.89 431.1,610.91 436.9,610.91" fill="#8b1a1a"/>
<polygon points="435.7,607.09 432.8,612.11 438.6,612.11" fill="#8b1a1a"/>
<polygon points="437.6,608.89 434.7,613.91 440.5,613.91" fill="#8b1a1a"/>
<polygon points="426,613.89 423.1,618.91 428.9,618.91" fill="#8b1a1a"/>
<polygon points="428,610.89 425.1,615.91 430.9,615.91" fill="#8b1a1a"/>
<polygon points="430,607.89 427.1,612.91 432.9,612.91" fill="#8b1a1a"/>
<polygon points="423,621.89 420.1,626.91 425.9,626.91" fill="#8b1a1a"/>
<polygon points="445.5,613.39 442.6,618.41 448.4,618.41" fill="#8b1a1a"/>
<polygon points="447,611.39 444.1,616.41 449.9,616.41" fill="#8b1a1a"/>
<polygon points="448.5,609.39 445.6,614.41 451.4,614.41" fill="#8b1a1a"/>
<polygon points="450,607.89 447.1,612.91 452.9,612.91" fill="#8b1a1a"/>
<polygon points="451.5,605.89 448.6,610.91 454.4,610.91" fill="#8b1a1a"/>
<polygon points="453,604.39 450.1,609.41 455.9,609.41" fill="#8b1a1a"/>
<polygon points="454.5,602.89 451.6,607.91 457.4,607.91" fill="#8b1a1a"/>
<polygon points="449,611.89 446.1,616.91 451.9,616.91" fill="#8b1a1a"/>
<polygon points="451,610.39 448.1,615.41 453.9,615.41" fill="#8b1a1a"/>
<polygon points="453,608.89 450.1,613.91 455.9,613.91" fill="#8b1a1a"/>
<polygon points="447,613.89 444.1,618.91 449.9,618.91" fill="#8b1a1a"/>
<polygon points="450.5,612.89 447.6,617.91 453.4,617.91" fill="#8b1a1a"/>
<polygon points="461.6,608.29 458.7,613.31 464.5,613.31" fill="#8b1a1a"/>
<polygon points="472.4,618.19 469.5,623.21 475.3,623.21" fill="#8b1a1a"/>
<polygon points="474.4,615.09 471.5,620.11 477.3,620.11" fill="#8b1a1a"/>
<polygon points="485.2,609.49 482.3,614.51 488.1,614.51" fill="#8b1a1a"/>
<polygon points="487,604.59 484.1,609.61 489.9,609.61" fill="#8b1a1a"/>
<polygon points="513,616.09 510.1,621.11 515.9,621.11" fill="#8b1a1a"/>
<polygon points="523.5,623.49 520.6,628.51 526.4,628.51" fill="#8b1a1a"/>
<polygon points="526,623.49 523.1,628.51 528.9,628.51" fill="#8b1a1a"/>
<polygon points="533.5,624.89 530.6,629.91 536.4,629.91" fill="#8b1a1a"/>
<polygon points="535.5,624.39 532.6,629.41 538.4,629.41" fill="#8b1a1a"/>
<polygon points="537.5,623.89 534.6,628.91 540.4,628.91" fill="#8b1a1a"/>
<polygon points="539.5,625.39 536.6,630.41 542.4,630.41" fill="#8b1a1a"/>
<polygon points="541.5,626.89 538.6,631.91 544.4,631.91" fill="#8b1a1a"/>
<polygon points="543,628.89 540.1,633.91 545.9,633.91" fill="#8b1a1a"/>
<polygon points="535,627.89 532.1,632.91 537.9,632.91" fill="#8b1a1a"/>
<polygon points="537,628.39 534.1,633.41 539.9,633.41" fill="#8b1a1a"/>
<polygon points="539,628.89 536.1,633.91 541.9,633.91" fill="#8b1a1a"/>
<polygon points="541,630.39 538.1,635.41 543.9,635.41" fill="#8b1a1a"/>
<polygon points="539.6,635.39 536.7,640.41 542.5,640.41" fill="#8b1a1a"/>
<polygon points="537.5,644.59 534.6,649.61 540.4,649.61" fill="#8b1a1a"/>
<polygon points="539.5,644.59 536.6,649.61 542.4,649.61" fill="#8b1a1a"/>
<polygon points="541.5,644.59 538.6,649.61 544.4,649.61" fill="#8b1a1a"/>
<polygon points="551.3,644.59 548.4,649.61 554.2,649.61" fill="#8b1a1a"/>
<path d="M419.6,575 L421.5,578.8 L424,577 L427,574 L430.5,571.8 L435.5,571" fill="none" stroke="#f0e442" stroke-width="5.2" stroke-linejoin="round" stroke-linecap="round" />
<path d="M446.5,574.2 L455,574.6" fill="none" stroke="#f0e442" stroke-width="5.0" stroke-linejoin="round" stroke-linecap="round" />
<path d="M534.5,580 L538.5,584 L542.5,587.8" fill="none" stroke="#f0e442" stroke-width="5.6" stroke-linejoin="round" stroke-linecap="round" />
<path d="M421,616.5 L422.3,611 L424.5,606.5 L428,603 L431,599.5 L435,597.5" fill="none" stroke="#e69f00" stroke-width="5.2" stroke-linejoin="round" stroke-linecap="round" />
<path d="M430,596.5 L435.5,596.5" fill="none" stroke="#e69f00" stroke-width="4.4" stroke-linejoin="round" stroke-linecap="round" />
<path d="M447.2,589.5 L453.2,589.8" fill="none" stroke="#e69f00" stroke-width="5.2" stroke-linejoin="round" stroke-linecap="round" />
<path d="M449,598.8 L454.2,599" fill="none" stroke="#e69f00" stroke-width="5.6" stroke-linejoin="round" stroke-linecap="round" />
<path d="M536,605 L541.5,606.5 L540.5,612.5" fill="none" stroke="#e69f00" stroke-width="5.4" stroke-linejoin="round" stroke-linecap="round" />
<path d="M422,629 L423.5,623 L426,616.5 L429,611.5 L431.5,609 L434,609.8 L436.5,611.8" fill="none" stroke="#8b1a1a" stroke-width="5.0" stroke-linejoin="round" stroke-linecap="round" />
<polygon points="444.6,618 454.3,603.8 456.8,608.9 455.3,614 450.2,617 446.1,618.6" fill="#8b1a1a"/>
<path d="M534.5,629.5 L538.5,629 L541.5,632.5" fill="none" stroke="#8b1a1a" stroke-width="5.0" stroke-linejoin="round" stroke-linecap="round" />
</g>
<rect x="75.7" y="5.1" width="224.8" height="79.5" fill="none" stroke="#333333" stroke-width="1.0"/>
<line x1="71.9" x2="75.7" y1="5.1" y2="5.1" stroke="#333333" stroke-width="1.0"/>
<line x1="71.9" x2="75.7" y1="25" y2="25" stroke="#333333" stroke-width="1.0"/>
<line x1="71.9" x2="75.7" y1="44.8" y2="44.8" stroke="#333333" stroke-width="1.0"/>
<line x1="71.9" x2="75.7" y1="64.7" y2="64.7" stroke="#333333" stroke-width="1.0"/>
<line x1="77.8" x2="77.8" y1="84.6" y2="88.5" stroke="#333333" stroke-width="1.0"/>
<line x1="132.5" x2="132.5" y1="84.6" y2="88.5" stroke="#333333" stroke-width="1.0"/>
<line x1="189.1" x2="189.1" y1="84.6" y2="88.5" stroke="#333333" stroke-width="1.0"/>
<line x1="245.7" x2="245.7" y1="84.6" y2="88.5" stroke="#333333" stroke-width="1.0"/>
<line x1="300.4" x2="300.4" y1="84.6" y2="88.5" stroke="#333333" stroke-width="1.0"/>
<text x="69.3" y="88.9" text-anchor="end" font-size="11" fill="#4d4d4d" stroke="#4d4d4d" stroke-width="0.3">0</text>
<text x="69.3" y="69" text-anchor="end" font-size="11" fill="#4d4d4d" stroke="#4d4d4d" stroke-width="0.3">62.5</text>
<text x="69.3" y="49.1" text-anchor="end" font-size="11" fill="#4d4d4d" stroke="#4d4d4d" stroke-width="0.3">125</text>
<text x="69.3" y="29.3" text-anchor="end" font-size="11" fill="#4d4d4d" stroke="#4d4d4d" stroke-width="0.3">187.5</text>
<rect x="331.5" y="5.1" width="225" height="79.5" fill="none" stroke="#333333" stroke-width="1.0"/>
<line x1="333.4" x2="333.4" y1="84.6" y2="88.5" stroke="#333333" stroke-width="1.0"/>
<line x1="388.3" x2="388.3" y1="84.6" y2="88.5" stroke="#333333" stroke-width="1.0"/>
<line x1="444.7" x2="444.7" y1="84.6" y2="88.5" stroke="#333333" stroke-width="1.0"/>
<line x1="501.5" x2="501.5" y1="84.6" y2="88.5" stroke="#333333" stroke-width="1.0"/>
<line x1="556.4" x2="556.4" y1="84.6" y2="88.5" stroke="#333333" stroke-width="1.0"/>
<rect x="75.7" y="117.5" width="224.8" height="79.9" fill="none" stroke="#333333" stroke-width="1.0"/>
<line x1="71.9" x2="75.7" y1="117.5" y2="117.5" stroke="#333333" stroke-width="1.0"/>
<line x1="71.9" x2="75.7" y1="137.4" y2="137.4" stroke="#333333" stroke-width="1.0"/>
<line x1="71.9" x2="75.7" y1="157.4" y2="157.4" stroke="#333333" stroke-width="1.0"/>
<line x1="71.9" x2="75.7" y1="177.3" y2="177.3" stroke="#333333" stroke-width="1.0"/>
<line x1="71.9" x2="75.7" y1="197.3" y2="197.3" stroke="#333333" stroke-width="1.0"/>
<line x1="77.8" x2="77.8" y1="197.4" y2="201.3" stroke="#333333" stroke-width="1.0"/>
<line x1="132.5" x2="132.5" y1="197.4" y2="201.3" stroke="#333333" stroke-width="1.0"/>
<line x1="189.1" x2="189.1" y1="197.4" y2="201.3" stroke="#333333" stroke-width="1.0"/>
<line x1="245.7" x2="245.7" y1="197.4" y2="201.3" stroke="#333333" stroke-width="1.0"/>
<line x1="300.4" x2="300.4" y1="197.4" y2="201.3" stroke="#333333" stroke-width="1.0"/>
<text x="69.3" y="201.6" text-anchor="end" font-size="11" fill="#4d4d4d" stroke="#4d4d4d" stroke-width="0.3">0</text>
<text x="69.3" y="181.6" text-anchor="end" font-size="11" fill="#4d4d4d" stroke="#4d4d4d" stroke-width="0.3">2</text>
<text x="69.3" y="161.7" text-anchor="end" font-size="11" fill="#4d4d4d" stroke="#4d4d4d" stroke-width="0.3">4</text>
<text x="69.3" y="141.7" text-anchor="end" font-size="11" fill="#4d4d4d" stroke="#4d4d4d" stroke-width="0.3">6</text>
<text x="69.3" y="121.8" text-anchor="end" font-size="11" fill="#4d4d4d" stroke="#4d4d4d" stroke-width="0.3">8</text>
<rect x="331.5" y="117.5" width="225" height="79.9" fill="none" stroke="#333333" stroke-width="1.0"/>
<line x1="327.7" x2="331.5" y1="117.5" y2="117.5" stroke="#333333" stroke-width="1.0"/>
<line x1="327.7" x2="331.5" y1="137.4" y2="137.4" stroke="#333333" stroke-width="1.0"/>
<line x1="327.7" x2="331.5" y1="157.4" y2="157.4" stroke="#333333" stroke-width="1.0"/>
<line x1="327.7" x2="331.5" y1="177.3" y2="177.3" stroke="#333333" stroke-width="1.0"/>
<line x1="327.7" x2="331.5" y1="197.3" y2="197.3" stroke="#333333" stroke-width="1.0"/>
<line x1="333.4" x2="333.4" y1="197.4" y2="201.3" stroke="#333333" stroke-width="1.0"/>
<line x1="388.3" x2="388.3" y1="197.4" y2="201.3" stroke="#333333" stroke-width="1.0"/>
<line x1="444.7" x2="444.7" y1="197.4" y2="201.3" stroke="#333333" stroke-width="1.0"/>
<line x1="501.5" x2="501.5" y1="197.4" y2="201.3" stroke="#333333" stroke-width="1.0"/>
<line x1="556.4" x2="556.4" y1="197.4" y2="201.3" stroke="#333333" stroke-width="1.0"/>
<rect x="75.7" y="230.8" width="224.8" height="78.9" fill="none" stroke="#333333" stroke-width="1.0"/>
<line x1="71.9" x2="75.7" y1="237.7" y2="237.7" stroke="#333333" stroke-width="1.0"/>
<line x1="71.9" x2="75.7" y1="261.85" y2="261.85" stroke="#333333" stroke-width="1.0"/>
<line x1="71.9" x2="75.7" y1="286" y2="286" stroke="#333333" stroke-width="1.0"/>
<line x1="71.9" x2="75.7" y1="310.3" y2="310.3" stroke="#333333" stroke-width="1.0"/>
<line x1="77.8" x2="77.8" y1="309.7" y2="313.6" stroke="#333333" stroke-width="1.0"/>
<line x1="132.5" x2="132.5" y1="309.7" y2="313.6" stroke="#333333" stroke-width="1.0"/>
<line x1="189.1" x2="189.1" y1="309.7" y2="313.6" stroke="#333333" stroke-width="1.0"/>
<line x1="245.7" x2="245.7" y1="309.7" y2="313.6" stroke="#333333" stroke-width="1.0"/>
<line x1="300.4" x2="300.4" y1="309.7" y2="313.6" stroke="#333333" stroke-width="1.0"/>
<text x="69.3" y="314.6" text-anchor="end" font-size="11" fill="#4d4d4d" stroke="#4d4d4d" stroke-width="0.3">10<tspan font-size="7.6" dy="-5.3">3</tspan></text>
<text x="69.3" y="290.3" text-anchor="end" font-size="11" fill="#4d4d4d" stroke="#4d4d4d" stroke-width="0.3">10<tspan font-size="7.6" dy="-5.3">4</tspan></text>
<text x="69.3" y="266.15" text-anchor="end" font-size="11" fill="#4d4d4d" stroke="#4d4d4d" stroke-width="0.3">10<tspan font-size="7.6" dy="-5.3">5</tspan></text>
<text x="69.3" y="242" text-anchor="end" font-size="11" fill="#4d4d4d" stroke="#4d4d4d" stroke-width="0.3">10<tspan font-size="7.6" dy="-5.3">6</tspan></text>
<rect x="331.5" y="230.8" width="225" height="78.9" fill="none" stroke="#333333" stroke-width="1.0"/>
<line x1="327.7" x2="331.5" y1="237.7" y2="237.7" stroke="#333333" stroke-width="1.0"/>
<line x1="327.7" x2="331.5" y1="261.85" y2="261.85" stroke="#333333" stroke-width="1.0"/>
<line x1="327.7" x2="331.5" y1="286" y2="286" stroke="#333333" stroke-width="1.0"/>
<line x1="327.7" x2="331.5" y1="310.3" y2="310.3" stroke="#333333" stroke-width="1.0"/>
<line x1="333.4" x2="333.4" y1="309.7" y2="313.6" stroke="#333333" stroke-width="1.0"/>
<line x1="388.3" x2="388.3" y1="309.7" y2="313.6" stroke="#333333" stroke-width="1.0"/>
<line x1="444.7" x2="444.7" y1="309.7" y2="313.6" stroke="#333333" stroke-width="1.0"/>
<line x1="501.5" x2="501.5" y1="309.7" y2="313.6" stroke="#333333" stroke-width="1.0"/>
<line x1="556.4" x2="556.4" y1="309.7" y2="313.6" stroke="#333333" stroke-width="1.0"/>
<rect x="75.7" y="343" width="224.8" height="79.4" fill="none" stroke="#333333" stroke-width="1.0"/>
<line x1="71.9" x2="75.7" y1="358.8" y2="358.8" stroke="#333333" stroke-width="1.0"/>
<line x1="71.9" x2="75.7" y1="374.7" y2="374.7" stroke="#333333" stroke-width="1.0"/>
<line x1="71.9" x2="75.7" y1="390.6" y2="390.6" stroke="#333333" stroke-width="1.0"/>
<line x1="71.9" x2="75.7" y1="406.5" y2="406.5" stroke="#333333" stroke-width="1.0"/>
<line x1="77.8" x2="77.8" y1="422.4" y2="426.3" stroke="#333333" stroke-width="1.0"/>
<line x1="132.5" x2="132.5" y1="422.4" y2="426.3" stroke="#333333" stroke-width="1.0"/>
<line x1="189.1" x2="189.1" y1="422.4" y2="426.3" stroke="#333333" stroke-width="1.0"/>
<line x1="245.7" x2="245.7" y1="422.4" y2="426.3" stroke="#333333" stroke-width="1.0"/>
<line x1="300.4" x2="300.4" y1="422.4" y2="426.3" stroke="#333333" stroke-width="1.0"/>
<text x="69.3" y="410.8" text-anchor="end" font-size="11" fill="#4d4d4d" stroke="#4d4d4d" stroke-width="0.3">0.15</text>
<text x="69.3" y="394.9" text-anchor="end" font-size="11" fill="#4d4d4d" stroke="#4d4d4d" stroke-width="0.3">0.3</text>
<text x="69.3" y="379" text-anchor="end" font-size="11" fill="#4d4d4d" stroke="#4d4d4d" stroke-width="0.3">0.45</text>
<text x="69.3" y="363.1" text-anchor="end" font-size="11" fill="#4d4d4d" stroke="#4d4d4d" stroke-width="0.3">0.6</text>
<rect x="331.5" y="343" width="225" height="79.4" fill="none" stroke="#333333" stroke-width="1.0"/>
<line x1="327.7" x2="331.5" y1="358.8" y2="358.8" stroke="#333333" stroke-width="1.0"/>
<line x1="327.7" x2="331.5" y1="374.7" y2="374.7" stroke="#333333" stroke-width="1.0"/>
<line x1="327.7" x2="331.5" y1="390.6" y2="390.6" stroke="#333333" stroke-width="1.0"/>
<line x1="327.7" x2="331.5" y1="406.5" y2="406.5" stroke="#333333" stroke-width="1.0"/>
<line x1="333.4" x2="333.4" y1="422.4" y2="426.3" stroke="#333333" stroke-width="1.0"/>
<line x1="388.3" x2="388.3" y1="422.4" y2="426.3" stroke="#333333" stroke-width="1.0"/>
<line x1="444.7" x2="444.7" y1="422.4" y2="426.3" stroke="#333333" stroke-width="1.0"/>
<line x1="501.5" x2="501.5" y1="422.4" y2="426.3" stroke="#333333" stroke-width="1.0"/>
<line x1="556.4" x2="556.4" y1="422.4" y2="426.3" stroke="#333333" stroke-width="1.0"/>
<rect x="75.7" y="455.9" width="224.8" height="79.4" fill="none" stroke="#333333" stroke-width="1.0"/>
<line x1="71.9" x2="75.7" y1="464.8" y2="464.8" stroke="#333333" stroke-width="1.0"/>
<line x1="71.9" x2="75.7" y1="488.3" y2="488.3" stroke="#333333" stroke-width="1.0"/>
<line x1="71.9" x2="75.7" y1="511.8" y2="511.8" stroke="#333333" stroke-width="1.0"/>
<line x1="71.9" x2="75.7" y1="535.3" y2="535.3" stroke="#333333" stroke-width="1.0"/>
<line x1="77.8" x2="77.8" y1="535.3" y2="539.2" stroke="#333333" stroke-width="1.0"/>
<line x1="132.5" x2="132.5" y1="535.3" y2="539.2" stroke="#333333" stroke-width="1.0"/>
<line x1="189.1" x2="189.1" y1="535.3" y2="539.2" stroke="#333333" stroke-width="1.0"/>
<line x1="245.7" x2="245.7" y1="535.3" y2="539.2" stroke="#333333" stroke-width="1.0"/>
<line x1="300.4" x2="300.4" y1="535.3" y2="539.2" stroke="#333333" stroke-width="1.0"/>
<text x="69.3" y="539.6" text-anchor="end" font-size="11" fill="#4d4d4d" stroke="#4d4d4d" stroke-width="0.3">1</text>
<text x="69.3" y="516.1" text-anchor="end" font-size="11" fill="#4d4d4d" stroke="#4d4d4d" stroke-width="0.3">10</text>
<text x="69.3" y="492.6" text-anchor="end" font-size="11" fill="#4d4d4d" stroke="#4d4d4d" stroke-width="0.3">10<tspan font-size="7.6" dy="-5.3">2</tspan></text>
<text x="69.3" y="469.1" text-anchor="end" font-size="11" fill="#4d4d4d" stroke="#4d4d4d" stroke-width="0.3">10<tspan font-size="7.6" dy="-5.3">3</tspan></text>
<rect x="331.5" y="455.9" width="225" height="79.4" fill="none" stroke="#333333" stroke-width="1.0"/>
<line x1="327.7" x2="331.5" y1="464.8" y2="464.8" stroke="#333333" stroke-width="1.0"/>
<line x1="327.7" x2="331.5" y1="488.3" y2="488.3" stroke="#333333" stroke-width="1.0"/>
<line x1="327.7" x2="331.5" y1="511.8" y2="511.8" stroke="#333333" stroke-width="1.0"/>
<line x1="327.7" x2="331.5" y1="535.3" y2="535.3" stroke="#333333" stroke-width="1.0"/>
<line x1="333.4" x2="333.4" y1="535.3" y2="539.2" stroke="#333333" stroke-width="1.0"/>
<line x1="388.3" x2="388.3" y1="535.3" y2="539.2" stroke="#333333" stroke-width="1.0"/>
<line x1="444.7" x2="444.7" y1="535.3" y2="539.2" stroke="#333333" stroke-width="1.0"/>
<line x1="501.5" x2="501.5" y1="535.3" y2="539.2" stroke="#333333" stroke-width="1.0"/>
<line x1="556.4" x2="556.4" y1="535.3" y2="539.2" stroke="#333333" stroke-width="1.0"/>
<rect x="75.7" y="568.6" width="224.8" height="78.9" fill="none" stroke="#333333" stroke-width="1.0"/>
<line x1="71.9" x2="75.7" y1="576.5" y2="576.5" stroke="#333333" stroke-width="1.0"/>
<line x1="71.9" x2="75.7" y1="594.3" y2="594.3" stroke="#333333" stroke-width="1.0"/>
<line x1="71.9" x2="75.7" y1="612.1" y2="612.1" stroke="#333333" stroke-width="1.0"/>
<line x1="71.9" x2="75.7" y1="629.9" y2="629.9" stroke="#333333" stroke-width="1.0"/>
<line x1="71.9" x2="75.7" y1="647.6" y2="647.6" stroke="#333333" stroke-width="1.0"/>
<line x1="77.8" x2="77.8" y1="647.5" y2="651.4" stroke="#333333" stroke-width="1.0"/>
<line x1="132.5" x2="132.5" y1="647.5" y2="651.4" stroke="#333333" stroke-width="1.0"/>
<line x1="189.1" x2="189.1" y1="647.5" y2="651.4" stroke="#333333" stroke-width="1.0"/>
<line x1="245.7" x2="245.7" y1="647.5" y2="651.4" stroke="#333333" stroke-width="1.0"/>
<line x1="300.4" x2="300.4" y1="647.5" y2="651.4" stroke="#333333" stroke-width="1.0"/>
<text x="69.3" y="652" text-anchor="end" font-size="11" fill="#4d4d4d" stroke="#4d4d4d" stroke-width="0.3">1</text>
<text x="69.3" y="634.2" text-anchor="end" font-size="11" fill="#4d4d4d" stroke="#4d4d4d" stroke-width="0.3">10<tspan font-size="7.6" dy="-5.3">2</tspan></text>
<text x="69.3" y="616.4" text-anchor="end" font-size="11" fill="#4d4d4d" stroke="#4d4d4d" stroke-width="0.3">10<tspan font-size="7.6" dy="-5.3">4</tspan></text>
<text x="69.3" y="598.6" text-anchor="end" font-size="11" fill="#4d4d4d" stroke="#4d4d4d" stroke-width="0.3">10<tspan font-size="7.6" dy="-5.3">6</tspan></text>
<text x="69.3" y="580.8" text-anchor="end" font-size="11" fill="#4d4d4d" stroke="#4d4d4d" stroke-width="0.3">10<tspan font-size="7.6" dy="-5.3">8</tspan></text>
<rect x="331.5" y="568.6" width="225" height="78.9" fill="none" stroke="#333333" stroke-width="1.0"/>
<line x1="327.7" x2="331.5" y1="576.5" y2="576.5" stroke="#333333" stroke-width="1.0"/>
<line x1="327.7" x2="331.5" y1="594.3" y2="594.3" stroke="#333333" stroke-width="1.0"/>
<line x1="327.7" x2="331.5" y1="612.1" y2="612.1" stroke="#333333" stroke-width="1.0"/>
<line x1="327.7" x2="331.5" y1="629.9" y2="629.9" stroke="#333333" stroke-width="1.0"/>
<line x1="327.7" x2="331.5" y1="647.6" y2="647.6" stroke="#333333" stroke-width="1.0"/>
<line x1="333.4" x2="333.4" y1="647.5" y2="651.4" stroke="#333333" stroke-width="1.0"/>
<line x1="388.3" x2="388.3" y1="647.5" y2="651.4" stroke="#333333" stroke-width="1.0"/>
<line x1="444.7" x2="444.7" y1="647.5" y2="651.4" stroke="#333333" stroke-width="1.0"/>
<line x1="501.5" x2="501.5" y1="647.5" y2="651.4" stroke="#333333" stroke-width="1.0"/>
<line x1="556.4" x2="556.4" y1="647.5" y2="651.4" stroke="#333333" stroke-width="1.0"/>
<line x1="144" x2="190.5" y1="41" y2="41" stroke="#c8283c" stroke-width="1.75"/>
<path d="M149.35,35.3 L144,41 L149.35,46.7" fill="none" stroke="#c8283c" stroke-width="1.75"/>
<path d="M185.15,35.3 L190.5,41 L185.15,46.7" fill="none" stroke="#c8283c" stroke-width="1.75"/>
<line x1="190.5" x2="211" y1="41" y2="41" stroke="#c8283c" stroke-width="1.75"/>
<path d="M193.1,35.3 L190.5,41 L193.1,46.7" fill="none" stroke="#c8283c" stroke-width="1.75"/>
<path d="M208.4,35.3 L211,41 L208.4,46.7" fill="none" stroke="#c8283c" stroke-width="1.75"/>
<line x1="211" x2="238.5" y1="41" y2="41" stroke="#c8283c" stroke-width="1.75"/>
<path d="M214.16,35.3 L211,41 L214.16,46.7" fill="none" stroke="#c8283c" stroke-width="1.75"/>
<path d="M235.34,35.3 L238.5,41 L235.34,46.7" fill="none" stroke="#c8283c" stroke-width="1.75"/>
<line x1="238.5" x2="298.2" y1="41" y2="41" stroke="#c8283c" stroke-width="1.75"/>
<path d="M245.37,35.3 L238.5,41 L245.37,46.7" fill="none" stroke="#c8283c" stroke-width="1.75"/>
<path d="M291.33,35.3 L298.2,41 L291.33,46.7" fill="none" stroke="#c8283c" stroke-width="1.75"/>
<line x1="333.1" x2="415.5" y1="41" y2="41" stroke="#c8283c" stroke-width="1.75"/>
<path d="M342.58,35.3 L333.1,41 L342.58,46.7" fill="none" stroke="#c8283c" stroke-width="1.75"/>
<path d="M406.02,35.3 L415.5,41 L406.02,46.7" fill="none" stroke="#c8283c" stroke-width="1.75"/>
<line x1="415.5" x2="439.3" y1="41" y2="41" stroke="#c8283c" stroke-width="1.75"/>
<path d="M418.24,35.3 L415.5,41 L418.24,46.7" fill="none" stroke="#c8283c" stroke-width="1.75"/>
<path d="M436.56,35.3 L439.3,41 L436.56,46.7" fill="none" stroke="#c8283c" stroke-width="1.75"/>
<line x1="439.3" x2="468.4" y1="41" y2="41" stroke="#c8283c" stroke-width="1.75"/>
<path d="M442.65,35.3 L439.3,41 L442.65,46.7" fill="none" stroke="#c8283c" stroke-width="1.75"/>
<path d="M465.05,35.3 L468.4,41 L465.05,46.7" fill="none" stroke="#c8283c" stroke-width="1.75"/>
<line x1="468.4" x2="552.6" y1="41" y2="41" stroke="#c8283c" stroke-width="1.75"/>
<path d="M478.08,35.3 L468.4,41 L478.08,46.7" fill="none" stroke="#c8283c" stroke-width="1.75"/>
<path d="M542.92,35.3 L552.6,41 L542.92,46.7" fill="none" stroke="#c8283c" stroke-width="1.75"/>
<text x="167.1" y="33.4" text-anchor="middle" font-size="9.7" fill="#c8283c" stroke="#c8283c" stroke-width="0.3">Baseflow</text>
<text x="374.0" y="33.4" text-anchor="middle" font-size="9.7" fill="#c8283c" stroke="#c8283c" stroke-width="0.3">Baseflow</text>
<text x="269.7" y="33.4" text-anchor="middle" font-size="9.7" fill="#c8283c" stroke="#c8283c" stroke-width="0.3">Event 3</text>
<text x="511.0" y="33.4" text-anchor="middle" font-size="9.7" fill="#c8283c" stroke="#c8283c" stroke-width="0.3">Event 6</text>
<text transform="translate(204,39.6) rotate(-90)" font-size="9.6" fill="#c8283c" stroke="#c8283c" stroke-width="0.3">Event 1</text>
<text transform="translate(227.6,39.6) rotate(-90)" font-size="9.6" fill="#c8283c" stroke="#c8283c" stroke-width="0.3">Event 2</text>
<text transform="translate(429.8,39.6) rotate(-90)" font-size="9.6" fill="#c8283c" stroke="#c8283c" stroke-width="0.3">Event 4</text>
<text transform="translate(456.1,39.6) rotate(-90)" font-size="9.6" fill="#c8283c" stroke="#c8283c" stroke-width="0.3">Event 5</text>
<text x="0" y="17.6" font-size="22" font-weight="bold" fill="#000" stroke="#000" stroke-width="0.3">A</text>
<text x="0.3" y="130.8" font-size="22" font-weight="bold" fill="#000" stroke="#000" stroke-width="0.3">B</text>
<text x="0" y="243.4" font-size="22" font-weight="bold" fill="#000" stroke="#000" stroke-width="0.3">C</text>
<text x="0" y="357" font-size="22" font-weight="bold" fill="#000" stroke="#000" stroke-width="0.3">D</text>
<text x="0.3" y="470" font-size="22" font-weight="bold" fill="#000" stroke="#000" stroke-width="0.3">E</text>
<text x="0.6" y="583.6" font-size="22" font-weight="bold" fill="#000" stroke="#000" stroke-width="0.3">F</text>
<text transform="translate(41.4,93.2) rotate(-90)" text-anchor="start" font-size="11.3" fill="#000" stroke="#000" stroke-width="0.3">Discharge [m<tspan font-size="8" dy="-4.2">3</tspan><tspan dy="4.2">/day]</tspan></text>
<text transform="translate(34.5,160.6) rotate(-90)" text-anchor="middle" font-size="11" fill="#000" stroke="#000" stroke-width="0.3">UV254 [-] and</text>
<text transform="translate(45.9,158.6) rotate(-90)" text-anchor="middle" font-size="11" fill="#000" stroke="#000" stroke-width="0.3">Turbidity [NTU]</text>
<text transform="translate(34.7,271.9) rotate(-90)" text-anchor="middle" font-size="11" fill="#000" stroke="#000" stroke-width="0.3">TCC, ICC and HNA</text>
<text transform="translate(46.1,271) rotate(-90)" text-anchor="middle" font-size="11" fill="#000" stroke="#000" stroke-width="0.3">by FCM-b [cells/ml]</text>
<text transform="translate(40.6,377.7) rotate(-90)" text-anchor="middle" font-size="11" fill="#000" stroke="#000" stroke-width="0.3">Dissimilarity score [-]</text>
<text transform="translate(34.6,501.8) rotate(-90)" text-anchor="middle" font-size="11" fill="#000" stroke="#000" stroke-width="0.3">Cultivation-based</text>
<text transform="translate(46,502.2) rotate(-90)" text-anchor="middle" font-size="11" fill="#000" stroke="#000" stroke-width="0.3">indicators [MPN/100 ml]</text>
<text transform="translate(34.4,616.8) rotate(-90)" text-anchor="middle" font-size="11" fill="#000" stroke="#000" stroke-width="0.3">Genetic markers</text>
<text transform="translate(46,616.8) rotate(-90)" text-anchor="middle" font-size="11" fill="#000" stroke="#000" stroke-width="0.3">[ME/100 ml]</text>
<line x1="556.5" x2="560.3" y1="5.1" y2="5.1" stroke="#333333" stroke-width="1.1"/>
<text x="562" y="9.4" font-size="11" fill="#4d4d4d" stroke="#4d4d4d" stroke-width="0.3">0</text>
<line x1="556.5" x2="560.3" y1="25" y2="25" stroke="#333333" stroke-width="1.1"/>
<text x="562" y="29.3" font-size="11" fill="#4d4d4d" stroke="#4d4d4d" stroke-width="0.3">25</text>
<line x1="556.5" x2="560.3" y1="44.8" y2="44.8" stroke="#333333" stroke-width="1.1"/>
<text x="562" y="49.1" font-size="11" fill="#4d4d4d" stroke="#4d4d4d" stroke-width="0.3">50</text>
<line x1="556.5" x2="560.3" y1="64.7" y2="64.7" stroke="#333333" stroke-width="1.1"/>
<text x="562" y="69" font-size="11" fill="#4d4d4d" stroke="#4d4d4d" stroke-width="0.3">75</text>
<text transform="translate(578.0,48.9) rotate(90)" text-anchor="middle" font-size="11" fill="#000" stroke="#000" stroke-width="0.3">Precipitation [mm]</text>
<text transform="translate(83.5,659) rotate(-45)" text-anchor="end" font-size="11" fill="#4d4d4d" stroke="#4d4d4d" stroke-width="0.3">2020-06</text>
<text transform="translate(138.2,659) rotate(-45)" text-anchor="end" font-size="11" fill="#4d4d4d" stroke="#4d4d4d" stroke-width="0.3">2020-07</text>
<text transform="translate(194.8,659) rotate(-45)" text-anchor="end" font-size="11" fill="#4d4d4d" stroke="#4d4d4d" stroke-width="0.3">2020-08</text>
<text transform="translate(251.4,659) rotate(-45)" text-anchor="end" font-size="11" fill="#4d4d4d" stroke="#4d4d4d" stroke-width="0.3">2020-09</text>
<text transform="translate(306.1,659) rotate(-45)" text-anchor="end" font-size="11" fill="#4d4d4d" stroke="#4d4d4d" stroke-width="0.3">2020-10</text>
<text transform="translate(339.1,659) rotate(-45)" text-anchor="end" font-size="11" fill="#4d4d4d" stroke="#4d4d4d" stroke-width="0.3">2021-06</text>
<text transform="translate(394,659) rotate(-45)" text-anchor="end" font-size="11" fill="#4d4d4d" stroke="#4d4d4d" stroke-width="0.3">2021-07</text>
<text transform="translate(450.4,659) rotate(-45)" text-anchor="end" font-size="11" fill="#4d4d4d" stroke="#4d4d4d" stroke-width="0.3">2021-08</text>
<text transform="translate(507.2,659) rotate(-45)" text-anchor="end" font-size="11" fill="#4d4d4d" stroke="#4d4d4d" stroke-width="0.3">2021-09</text>
<text transform="translate(562.1,659) rotate(-45)" text-anchor="end" font-size="11" fill="#4d4d4d" stroke="#4d4d4d" stroke-width="0.3">2021-10</text>
<rect x="601.5" y="30.8" width="18.5" height="3.2" fill="#174f8c"/>
<text x="626.7" y="36.3" font-size="11" fill="#000" stroke="#000" stroke-width="0.3">discharge</text>
<rect x="601.5" y="45.4" width="18.5" height="3.2" fill="#74b6fc"/>
<text x="626.7" y="50.9" font-size="11" fill="#000" stroke="#000" stroke-width="0.3">precipitation</text>
<rect x="601.5" y="60.1" width="18.5" height="3.2" fill="#c9e6ee"/>
<text x="626.7" y="65.6" font-size="11" fill="#000" stroke="#000" stroke-width="0.3">snow height</text>
<rect x="574.9" y="148.2" width="18.2" height="3.6" fill="#8b008b"/>
<text x="597.6" y="153.9" font-size="11" fill="#000" stroke="#000" stroke-width="0.3">UV254</text>
<rect x="574.9" y="163.1" width="18.2" height="3.6" fill="#2e8b57"/>
<text x="597.6" y="168.8" font-size="11" fill="#000" stroke="#000" stroke-width="0.3">turbidity</text>
<polygon points="570.6,258.02 564.9,248.15 576.3,248.15" fill="#5fb3e3"/>
<path d="M570.6,259.9 L576.2,265.5 L570.6,271.1 L565,265.5 Z" fill="#b5d9f2"/>
<circle cx="570.6" cy="279.2" r="4.6" fill="none" stroke="#137373" stroke-width="1.6"/>
<path d="M570.6,287.6 L576.2,293.2 L570.6,298.8 L565,293.2 Z" fill="none" stroke="#22d3d8" stroke-width="1.6"/>
<text x="583.8" y="255.8" font-size="11" fill="#000" stroke="#000" stroke-width="0.3">TCC</text>
<text x="583.8" y="269.4" font-size="11" fill="#000" stroke="#000" stroke-width="0.3">HNA of TCC</text>
<text x="583.8" y="283.1" font-size="11" fill="#000" stroke="#000" stroke-width="0.3">ICC</text>
<text x="583.8" y="296.9" font-size="11" fill="#000" stroke="#000" stroke-width="0.3">HNA of ICC</text>
<text x="580.6" y="374.9" font-size="11" fill="#000" stroke="#000" stroke-width="0.3">Dissimilarity score</text>
<circle cx="567.3" cy="384.0" r="5.6" fill="#ffb6c1"/>
<circle cx="567.3" cy="398.4" r="5.6" fill="#ff0000"/>
<text x="580.6" y="387.9" font-size="11" fill="#000" stroke="#000" stroke-width="0.3">below threshold</text>
<text x="580.6" y="402.3" font-size="11" fill="#000" stroke="#000" stroke-width="0.3">above threshold</text>
<rect x="566.3" y="486.6" width="9.9" height="9.9" fill="#ff1493" stroke="#8b0a50" stroke-width="1.0" stroke-linejoin="round"/>
<polygon points="571.2,502.29 565.7,511.82 576.7,511.82" fill="#8a2be2" stroke="#551a8b" stroke-width="0.9"/>
<text x="585.4" y="497.9" font-size="11" fill="#000" stroke="#000" stroke-width="0.3">total coliforms</text>
<text x="585.4" y="511.8" font-size="11" font-style="italic" fill="#000" stroke="#000" stroke-width="0.3">E. coli</text>
<circle cx="572.5" cy="597.0" r="5.6" fill="#f0e442"/>
<rect x="566.8" y="606.5" width="11.3" height="10.8" fill="#e69f00"/>
<polygon points="572.5,620.56 566.5,630.95 578.5,630.95" fill="#8b1a1a"/>
<text x="586.9" y="600.9" font-size="11" fill="#000" stroke="#000" stroke-width="0.3">16S</text>
<text x="586.9" y="615.1" font-size="11" fill="#000" stroke="#000" stroke-width="0.3">AllBac</text>
<text x="586.9" y="629.4" font-size="11" fill="#000" stroke="#000" stroke-width="0.3">BacR</text>
</svg>
</body></html>
